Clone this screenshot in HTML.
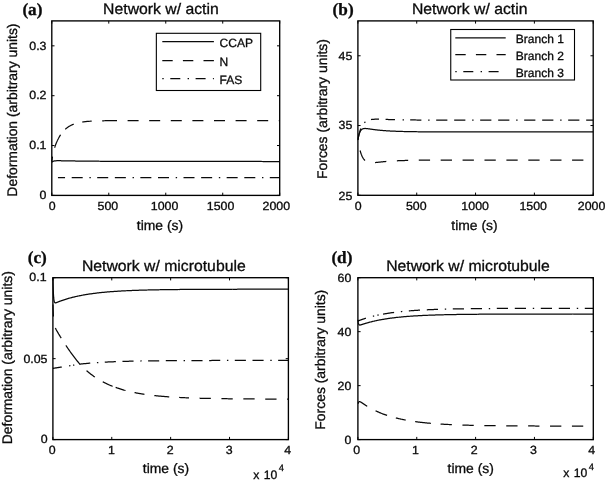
<!DOCTYPE html>
<html><head><meta charset="utf-8"><title>Figure</title>
<style>
html,body{margin:0;padding:0;background:#fff;}
svg{display:block;font-family:"Liberation Sans",sans-serif;}
svg text{text-rendering:geometricPrecision;fill:#0a0a0a;stroke:#0a0a0a;stroke-width:0.3px;}
</style></head><body>
<svg width="605" height="482" viewBox="0 0 605 482">
<rect width="605" height="482" fill="#fff"/>
<clipPath id="cpa"><rect x="51.199999999999996" y="20.299999999999997" width="229.09999999999997" height="175.7"/></clipPath>
<path d="M51.80,162.25 L51.91,162.14 L52.03,162.03 L52.14,161.94 L52.26,161.85 L52.37,161.77 L52.49,161.69 L52.60,161.62 L52.71,161.55 L52.83,161.49 L52.94,161.43 L53.06,161.37 L53.17,161.32 L53.29,161.27 L53.40,161.23 L53.51,161.19 L53.63,161.15 L53.74,161.11 L53.86,161.08 L53.97,161.05 L54.09,161.02 L54.20,161.00 L54.32,160.97 L54.43,160.95 L54.54,160.93 L54.66,160.91 L54.77,160.89 L54.89,160.87 L55.00,160.86 L55.12,160.84 L55.23,160.83 L55.34,160.82 L55.46,160.81 L55.57,160.80 L55.69,160.79 L55.80,160.78 L55.92,160.77 L56.03,160.76 L56.14,160.76 L56.26,160.75 L56.37,160.75 L56.49,160.74 L56.60,160.74 L56.72,160.73 L56.83,160.73 L56.94,160.73 L57.06,160.72 L57.17,160.72 L57.29,160.72 L57.40,160.72 L57.52,160.72 L57.63,160.71 L57.75,160.71 L57.86,160.71 L57.97,160.71 L58.09,160.71 L58.20,160.71 L58.32,160.71 L58.43,160.71 L58.55,160.71 L58.66,160.71 L58.77,160.71 L58.89,160.71 L59.00,160.72 L59.12,160.72 L59.23,160.72 L59.35,160.72 L59.46,160.72 L59.57,160.72 L59.69,160.72 L59.80,160.72 L59.92,160.73 L60.03,160.73 L60.15,160.73 L60.26,160.73 L60.37,160.73 L60.49,160.73 L60.60,160.74 L60.72,160.74 L60.83,160.74 L60.95,160.74 L61.06,160.74 L61.18,160.75 L61.29,160.75 L61.40,160.75 L61.52,160.75 L61.63,160.75 L61.75,160.76 L61.86,160.76 L61.98,160.76 L62.09,160.76 L62.20,160.77 L62.32,160.77 L62.43,160.77 L62.55,160.77 L62.66,160.77 L62.78,160.78 L62.89,160.78 L63.00,160.78 L63.12,160.78 L63.23,160.79 L63.35,160.79 L63.46,160.79 L63.58,160.79 L63.69,160.79 L63.80,160.80 L63.92,160.80 L64.03,160.80 L64.15,160.80 L64.26,160.81 L64.38,160.81 L64.49,160.81 L64.61,160.81 L64.72,160.81 L64.83,160.82 L64.95,160.82 L65.06,160.82 L65.18,160.82 L65.29,160.83 L65.41,160.83 L65.52,160.83 L65.63,160.83 L65.75,160.83 L65.86,160.84 L65.98,160.84 L66.09,160.84 L66.21,160.84 L66.32,160.85 L66.43,160.85 L66.55,160.85 L66.66,160.85 L66.78,160.85 L66.89,160.86 L67.01,160.86 L67.12,160.86 L67.23,160.86 L67.35,160.86 L67.46,160.87 L67.58,160.87 L67.69,160.87 L67.81,160.87 L67.92,160.88 L68.04,160.88 L68.15,160.88 L68.26,160.88 L68.38,160.88 L68.49,160.89 L68.61,160.89 L68.72,160.89 L68.84,160.89 L68.95,160.89 L69.06,160.90 L69.18,160.90 L69.29,160.90 L69.41,160.90 L69.52,160.90 L69.64,160.91 L69.75,160.91 L69.86,160.91 L69.98,160.91 L70.09,160.91 L70.21,160.92 L70.32,160.92 L70.44,160.92 L70.55,160.92 L70.66,160.92 L70.78,160.92 L70.89,160.93 L71.01,160.93 L71.12,160.93 L71.24,160.93 L71.35,160.93 L71.46,160.94 L71.58,160.94 L71.69,160.94 L71.81,160.94 L71.92,160.94 L72.04,160.95 L72.15,160.95 L72.27,160.95 L72.38,160.95 L72.49,160.95 L72.61,160.95 L72.72,160.96 L72.84,160.96 L72.95,160.96 L73.07,160.96 L73.18,160.96 L73.29,160.97 L73.41,160.97 L73.52,160.97 L73.64,160.97 L73.75,160.97 L73.87,160.97 L73.98,160.98 L74.09,160.98 L74.21,160.98 L74.32,160.98 L74.44,160.98 L74.55,160.98 L74.67,160.99 L74.78,160.99 L74.89,160.99 L75.01,160.99 L75.12,160.99 L75.24,160.99 L75.35,161.00 L75.47,161.00 L75.58,161.00 L75.70,161.00 L75.81,161.00 L75.92,161.00 L76.04,161.01 L76.15,161.01 L76.27,161.01 L76.38,161.01 L76.50,161.01 L76.61,161.01 L76.72,161.02 L76.84,161.02 L76.95,161.02 L77.07,161.02 L77.18,161.02 L77.30,161.02 L77.41,161.03 L77.52,161.03 L77.64,161.03 L77.75,161.03 L77.87,161.03 L77.98,161.03 L78.10,161.04 L78.21,161.04 L78.32,161.04 L78.44,161.04 L78.55,161.04 L78.67,161.04 L78.78,161.04 L78.90,161.05 L79.01,161.05 L79.13,161.05 L79.24,161.05 L79.35,161.05 L79.47,161.05 L79.58,161.05 L79.70,161.06 L79.81,161.06 L79.93,161.06 L80.04,161.06 L80.15,161.06 L80.27,161.06 L80.38,161.06 L80.50,161.07 L80.61,161.07 L80.73,161.07 L80.84,161.07 L80.95,161.07 L81.07,161.07 L81.18,161.07 L81.30,161.08 L81.41,161.08 L81.53,161.08 L81.64,161.08 L81.75,161.08 L81.87,161.08 L81.98,161.08 L82.10,161.09 L82.21,161.09 L82.33,161.09 L82.44,161.09 L82.56,161.09 L82.67,161.09 L82.78,161.09 L82.90,161.10 L83.01,161.10 L83.13,161.10 L83.24,161.10 L83.36,161.10 L83.47,161.10 L83.58,161.10 L83.70,161.10 L83.81,161.11 L83.93,161.11 L84.04,161.11 L84.16,161.11 L84.27,161.11 L84.38,161.11 L84.50,161.11 L84.61,161.12 L84.73,161.12 L84.84,161.12 L84.96,161.12 L85.07,161.12 L85.18,161.12 L85.30,161.12 L85.41,161.12 L85.53,161.13 L85.64,161.13 L85.76,161.13 L85.87,161.13 L85.98,161.13 L86.96,161.14 L87.93,161.15 L88.91,161.16 L89.88,161.17 L90.85,161.18 L91.83,161.19 L92.80,161.20 L93.77,161.21 L94.75,161.21 L95.72,161.22 L96.69,161.23 L97.67,161.24 L98.64,161.24 L99.61,161.25 L100.59,161.26 L101.56,161.26 L102.53,161.27 L103.51,161.28 L104.48,161.28 L105.45,161.29 L106.43,161.30 L107.40,161.30 L108.37,161.31 L109.35,161.31 L110.32,161.32 L111.29,161.32 L112.27,161.33 L113.24,161.33 L114.21,161.34 L115.19,161.34 L116.16,161.35 L117.14,161.35 L118.11,161.35 L119.08,161.36 L120.06,161.36 L121.03,161.37 L122.00,161.37 L122.98,161.37 L123.95,161.38 L124.92,161.38 L125.90,161.38 L126.87,161.39 L127.84,161.39 L128.82,161.39 L129.79,161.40 L130.76,161.40 L131.74,161.40 L132.71,161.40 L133.68,161.41 L134.66,161.41 L135.63,161.41 L136.60,161.41 L137.58,161.42 L138.55,161.42 L139.52,161.42 L140.50,161.42 L141.47,161.42 L142.44,161.43 L143.42,161.43 L144.39,161.43 L145.36,161.43 L146.34,161.43 L147.31,161.44 L148.29,161.44 L149.26,161.44 L150.23,161.44 L151.21,161.44 L152.18,161.44 L153.15,161.45 L154.13,161.45 L155.10,161.45 L156.07,161.45 L157.05,161.45 L158.02,161.45 L158.99,161.45 L159.97,161.46 L160.94,161.46 L161.91,161.46 L162.89,161.46 L163.86,161.46 L164.83,161.46 L165.81,161.46 L166.78,161.46 L167.75,161.46 L168.73,161.46 L169.70,161.47 L170.67,161.47 L171.65,161.47 L172.62,161.47 L173.59,161.47 L174.57,161.47 L175.54,161.47 L176.52,161.47 L177.49,161.47 L178.46,161.47 L179.44,161.47 L180.41,161.47 L181.38,161.47 L182.36,161.48 L183.33,161.48 L184.30,161.48 L185.28,161.48 L186.25,161.48 L187.22,161.48 L188.20,161.48 L189.17,161.48 L190.14,161.48 L191.12,161.48 L192.09,161.48 L193.06,161.48 L194.04,161.48 L195.01,161.48 L195.98,161.48 L196.96,161.48 L197.93,161.48 L198.90,161.48 L199.88,161.48 L200.85,161.48 L201.82,161.48 L202.80,161.49 L203.77,161.49 L204.74,161.49 L205.72,161.49 L206.69,161.49 L207.67,161.49 L208.64,161.49 L209.61,161.49 L210.59,161.49 L211.56,161.49 L212.53,161.49 L213.51,161.49 L214.48,161.49 L215.45,161.49 L216.43,161.49 L217.40,161.49 L218.37,161.49 L219.35,161.49 L220.32,161.49 L221.29,161.49 L222.27,161.49 L223.24,161.49 L224.21,161.49 L225.19,161.49 L226.16,161.49 L227.13,161.49 L228.11,161.49 L229.08,161.49 L230.05,161.49 L231.03,161.49 L232.00,161.49 L232.97,161.49 L233.95,161.49 L234.92,161.49 L235.90,161.49 L236.87,161.49 L237.84,161.49 L238.82,161.49 L239.79,161.49 L240.76,161.49 L241.74,161.49 L242.71,161.49 L243.68,161.49 L244.66,161.49 L245.63,161.49 L246.60,161.49 L247.58,161.49 L248.55,161.49 L249.52,161.49 L250.50,161.49 L251.47,161.49 L252.44,161.49 L253.42,161.49 L254.39,161.49 L255.36,161.49 L256.34,161.49 L257.31,161.49 L258.28,161.49 L259.26,161.49 L260.23,161.49 L261.20,161.49 L262.18,161.50 L263.15,161.50 L264.12,161.50 L265.10,161.50 L266.07,161.50 L267.05,161.50 L268.02,161.50 L268.99,161.50 L269.97,161.50 L270.94,161.50 L271.91,161.50 L272.89,161.50 L273.86,161.50 L274.83,161.50 L275.81,161.50 L276.78,161.50 L277.75,161.50 L278.73,161.50 L279.70,161.50" fill="none" stroke="#0a0a0a" stroke-width="1.25" clip-path="url(#cpa)"/>
<path d="M51.80,161.30 L51.91,160.41 L52.03,159.57 L52.14,158.78 L52.26,158.02 L52.37,157.30 L52.49,156.62 L52.60,155.97 L52.71,155.35 L52.83,154.75 L52.94,154.18 L53.06,153.63 L53.17,153.10 L53.29,152.59 L53.40,152.10 L53.51,151.62 L53.63,151.16 L53.74,150.71 L53.86,150.28 L53.97,149.86 L54.09,149.45 L54.20,149.05 L54.32,148.66 L54.43,148.27 L54.54,147.90 L54.66,147.54 L54.77,147.18 L54.89,146.83 L55.00,146.49 L55.12,146.16 L55.23,145.83 L55.34,145.51 L55.46,145.19 L55.57,144.88 L55.69,144.57 L55.80,144.27 L55.92,143.97 L56.03,143.68 L56.14,143.40 L56.26,143.11 L56.37,142.83 L56.49,142.56 L56.60,142.29 L56.72,142.02 L56.83,141.76 L56.94,141.50 L57.06,141.25 L57.17,141.00 L57.29,140.75 L57.40,140.50 L57.52,140.26 L57.63,140.02 L57.75,139.79 L57.86,139.55 L57.97,139.32 L58.09,139.10 L58.20,138.87 L58.32,138.65 L58.43,138.43 L58.55,138.22 L58.66,138.01 L58.77,137.80 L58.89,137.59 L59.00,137.38 L59.12,137.18 L59.23,136.98 L59.35,136.79 L59.46,136.59 L59.57,136.40 L59.69,136.21 L59.80,136.02 L59.92,135.83 L60.03,135.65 L60.15,135.47 L60.26,135.29 L60.37,135.12 L60.49,134.94 L60.60,134.77 L60.72,134.60 L60.83,134.43 L60.95,134.26 L61.06,134.10 L61.18,133.94 L61.29,133.78 L61.40,133.62 L61.52,133.46 L61.63,133.31 L61.75,133.16 L61.86,133.00 L61.98,132.86 L62.09,132.71 L62.20,132.56 L62.32,132.42 L62.43,132.28 L62.55,132.14 L62.66,132.00 L62.78,131.86 L62.89,131.73 L63.00,131.59 L63.12,131.46 L63.23,131.33 L63.35,131.20 L63.46,131.08 L63.58,130.95 L63.69,130.83 L63.80,130.70 L63.92,130.58 L64.03,130.46 L64.15,130.34 L64.26,130.23 L64.38,130.11 L64.49,130.00 L64.61,129.88 L64.72,129.77 L64.83,129.66 L64.95,129.55 L65.06,129.45 L65.18,129.34 L65.29,129.24 L65.41,129.13 L65.52,129.03 L65.63,128.93 L65.75,128.83 L65.86,128.73 L65.98,128.63 L66.09,128.54 L66.21,128.44 L66.32,128.35 L66.43,128.25 L66.55,128.16 L66.66,128.07 L66.78,127.98 L66.89,127.89 L67.01,127.81 L67.12,127.72 L67.23,127.63 L67.35,127.55 L67.46,127.47 L67.58,127.38 L67.69,127.30 L67.81,127.22 L67.92,127.14 L68.04,127.06 L68.15,126.99 L68.26,126.91 L68.38,126.83 L68.49,126.76 L68.61,126.69 L68.72,126.61 L68.84,126.54 L68.95,126.47 L69.06,126.40 L69.18,126.33 L69.29,126.26 L69.41,126.19 L69.52,126.13 L69.64,126.06 L69.75,125.99 L69.86,125.93 L69.98,125.87 L70.09,125.80 L70.21,125.74 L70.32,125.68 L70.44,125.62 L70.55,125.56 L70.66,125.50 L70.78,125.44 L70.89,125.38 L71.01,125.32 L71.12,125.27 L71.24,125.21 L71.35,125.16 L71.46,125.10 L71.58,125.05 L71.69,125.00 L71.81,124.94 L71.92,124.89 L72.04,124.84 L72.15,124.79 L72.27,124.74 L72.38,124.69 L72.49,124.64 L72.61,124.59 L72.72,124.54 L72.84,124.50 L72.95,124.45 L73.07,124.40 L73.18,124.36 L73.29,124.31 L73.41,124.27 L73.52,124.22 L73.64,124.18 L73.75,124.14 L73.87,124.10 L73.98,124.05 L74.09,124.01 L74.21,123.97 L74.32,123.93 L74.44,123.89 L74.55,123.85 L74.67,123.81 L74.78,123.78 L74.89,123.74 L75.01,123.70 L75.12,123.66 L75.24,123.63 L75.35,123.59 L75.47,123.55 L75.58,123.52 L75.70,123.48 L75.81,123.45 L75.92,123.42 L76.04,123.38 L76.15,123.35 L76.27,123.32 L76.38,123.28 L76.50,123.25 L76.61,123.22 L76.72,123.19 L76.84,123.16 L76.95,123.13 L77.07,123.10 L77.18,123.07 L77.30,123.04 L77.41,123.01 L77.52,122.98 L77.64,122.95 L77.75,122.92 L77.87,122.89 L77.98,122.87 L78.10,122.84 L78.21,122.81 L78.32,122.79 L78.44,122.76 L78.55,122.74 L78.67,122.71 L78.78,122.68 L78.90,122.66 L79.01,122.64 L79.13,122.61 L79.24,122.59 L79.35,122.56 L79.47,122.54 L79.58,122.52 L79.70,122.49 L79.81,122.47 L79.93,122.45 L80.04,122.43 L80.15,122.41 L80.27,122.38 L80.38,122.36 L80.50,122.34 L80.61,122.32 L80.73,122.30 L80.84,122.28 L80.95,122.26 L81.07,122.24 L81.18,122.22 L81.30,122.20 L81.41,122.18 L81.53,122.16 L81.64,122.14 L81.75,122.13 L81.87,122.11 L81.98,122.09 L82.10,122.07 L82.21,122.05 L82.33,122.04 L82.44,122.02 L82.56,122.00 L82.67,121.99 L82.78,121.97 L82.90,121.95 L83.01,121.94 L83.13,121.92 L83.24,121.91 L83.36,121.89 L83.47,121.88 L83.58,121.86 L83.70,121.85 L83.81,121.83 L83.93,121.82 L84.04,121.80 L84.16,121.79 L84.27,121.77 L84.38,121.76 L84.50,121.75 L84.61,121.73 L84.73,121.72 L84.84,121.71 L84.96,121.69 L85.07,121.68 L85.18,121.67 L85.30,121.65 L85.41,121.64 L85.53,121.63 L85.64,121.62 L85.76,121.60 L85.87,121.59 L85.98,121.58 L86.96,121.49 L87.93,121.40 L88.91,121.32 L89.88,121.25 L90.85,121.19 L91.83,121.14 L92.80,121.08 L93.77,121.04 L94.75,121.00 L95.72,120.96 L96.69,120.93 L97.67,120.90 L98.64,120.87 L99.61,120.84 L100.59,120.82 L101.56,120.80 L102.53,120.78 L103.51,120.77 L104.48,120.75 L105.45,120.74 L106.43,120.73 L107.40,120.71 L108.37,120.70 L109.35,120.70 L110.32,120.69 L111.29,120.68 L112.27,120.67 L113.24,120.67 L114.21,120.66 L115.19,120.66 L116.16,120.65 L117.14,120.65 L118.11,120.65 L119.08,120.64 L120.06,120.64 L121.03,120.64 L122.00,120.64 L122.98,120.63 L123.95,120.63 L124.92,120.63 L125.90,120.63 L126.87,120.63 L127.84,120.63 L128.82,120.62 L129.79,120.62 L130.76,120.62 L131.74,120.62 L132.71,120.62 L133.68,120.62 L134.66,120.62 L135.63,120.62 L136.60,120.62 L137.58,120.62 L138.55,120.62 L139.52,120.62 L140.50,120.62 L141.47,120.62 L142.44,120.62 L143.42,120.62 L144.39,120.62 L145.36,120.62 L146.34,120.62 L147.31,120.62 L148.29,120.62 L149.26,120.62 L150.23,120.62 L151.21,120.62 L152.18,120.62 L153.15,120.62 L154.13,120.62 L155.10,120.61 L156.07,120.61 L157.05,120.61 L158.02,120.61 L158.99,120.61 L159.97,120.61 L160.94,120.61 L161.91,120.61 L162.89,120.61 L163.86,120.61 L164.83,120.61 L165.81,120.61 L166.78,120.61 L167.75,120.61 L168.73,120.61 L169.70,120.61 L170.67,120.61 L171.65,120.61 L172.62,120.61 L173.59,120.61 L174.57,120.61 L175.54,120.61 L176.52,120.61 L177.49,120.61 L178.46,120.61 L179.44,120.61 L180.41,120.61 L181.38,120.61 L182.36,120.61 L183.33,120.61 L184.30,120.61 L185.28,120.61 L186.25,120.61 L187.22,120.61 L188.20,120.61 L189.17,120.61 L190.14,120.61 L191.12,120.61 L192.09,120.61 L193.06,120.61 L194.04,120.61 L195.01,120.61 L195.98,120.61 L196.96,120.61 L197.93,120.61 L198.90,120.61 L199.88,120.61 L200.85,120.61 L201.82,120.61 L202.80,120.61 L203.77,120.61 L204.74,120.61 L205.72,120.61 L206.69,120.61 L207.67,120.61 L208.64,120.61 L209.61,120.61 L210.59,120.61 L211.56,120.61 L212.53,120.61 L213.51,120.61 L214.48,120.61 L215.45,120.61 L216.43,120.61 L217.40,120.61 L218.37,120.61 L219.35,120.61 L220.32,120.61 L221.29,120.61 L222.27,120.61 L223.24,120.61 L224.21,120.61 L225.19,120.61 L226.16,120.61 L227.13,120.61 L228.11,120.61 L229.08,120.61 L230.05,120.61 L231.03,120.61 L232.00,120.61 L232.97,120.61 L233.95,120.61 L234.92,120.61 L235.90,120.61 L236.87,120.61 L237.84,120.61 L238.82,120.61 L239.79,120.61 L240.76,120.61 L241.74,120.61 L242.71,120.61 L243.68,120.61 L244.66,120.61 L245.63,120.61 L246.60,120.61 L247.58,120.61 L248.55,120.61 L249.52,120.61 L250.50,120.61 L251.47,120.61 L252.44,120.61 L253.42,120.61 L254.39,120.61 L255.36,120.61 L256.34,120.61 L257.31,120.61 L258.28,120.61 L259.26,120.61 L260.23,120.61 L261.20,120.61 L262.18,120.61 L263.15,120.61 L264.12,120.61 L265.10,120.61 L266.07,120.61 L267.05,120.61 L268.02,120.61 L268.99,120.61 L269.97,120.61 L270.94,120.61 L271.91,120.61 L272.89,120.61 L273.86,120.61 L274.83,120.61 L275.81,120.61 L276.78,120.61 L277.75,120.61 L278.73,120.61 L279.70,120.61" fill="none" stroke="#0a0a0a" stroke-width="1.25" stroke-dasharray="4.81 9.07 14.32 7.15 10.11 8.77 9.45 10.51 14.80 10.60 11.00 10.60 11.00 10.60 11.00 10.60 11.00 10.60 11.00 10.60 11.00 10.60 11.00 10.60 11.00 10.60 11.00 10.60 11.00 10.60" clip-path="url(#cpa)"/>
<path d="M57.95,177.60 L62.48,177.60 L67.00,177.60 L71.53,177.60 L76.06,177.60 L80.58,177.60 L85.11,177.60 L89.63,177.60 L94.16,177.60 L98.68,177.60 L103.21,177.60 L107.73,177.60 L112.26,177.60 L116.78,177.60 L121.31,177.60 L125.83,177.60 L130.36,177.60 L134.89,177.60 L139.41,177.60 L143.94,177.60 L148.46,177.60 L152.99,177.60 L157.51,177.60 L162.04,177.60 L166.56,177.60 L171.09,177.60 L175.61,177.60 L180.14,177.60 L184.67,177.60 L189.19,177.60 L193.72,177.60 L198.24,177.60 L202.77,177.60 L207.29,177.60 L211.82,177.60 L216.34,177.60 L220.87,177.60 L225.39,177.60 L229.92,177.60 L234.45,177.60 L238.97,177.60 L243.50,177.60 L248.02,177.60 L252.55,177.60 L257.07,177.60 L261.60,177.60 L266.12,177.60 L270.65,177.60 L275.17,177.60 L279.70,177.60" fill="none" stroke="#0a0a0a" stroke-width="1.25" stroke-dasharray="11.0 6.7 1.4 6.4 11.0 6.65" stroke-dashoffset="29.40" clip-path="url(#cpa)"/>
<rect x="51.8" y="20.9" width="227.89999999999998" height="174.5" fill="none" stroke="#000" stroke-width="1.35"/>
<path d="M51.80,195.4 v-2.7 M51.80,20.9 v2.7" stroke="#000" stroke-width="1"/>
<path d="M108.77,195.4 v-2.7 M108.77,20.9 v2.7" stroke="#000" stroke-width="1"/>
<path d="M165.75,195.4 v-2.7 M165.75,20.9 v2.7" stroke="#000" stroke-width="1"/>
<path d="M222.72,195.4 v-2.7 M222.72,20.9 v2.7" stroke="#000" stroke-width="1"/>
<path d="M279.70,195.4 v-2.7 M279.70,20.9 v2.7" stroke="#000" stroke-width="1"/>
<path d="M51.8,195.40 h2.7 M279.7,195.40 h-2.7" stroke="#000" stroke-width="1"/>
<path d="M51.8,145.54 h2.7 M279.7,145.54 h-2.7" stroke="#000" stroke-width="1"/>
<path d="M51.8,95.69 h2.7 M279.7,95.69 h-2.7" stroke="#000" stroke-width="1"/>
<path d="M51.8,45.83 h2.7 M279.7,45.83 h-2.7" stroke="#000" stroke-width="1"/>
<text transform="translate(52.10,209.60) scale(1.05,1)" font-size="11.8" text-anchor="middle">0</text>
<text transform="translate(107.87,209.60) scale(1.05,1)" font-size="11.8" text-anchor="middle">500</text>
<text transform="translate(164.55,209.60) scale(1.05,1)" font-size="11.8" text-anchor="middle">1000</text>
<text transform="translate(220.52,209.60) scale(1.05,1)" font-size="11.8" text-anchor="middle">1500</text>
<text transform="translate(276.30,209.60) scale(1.05,1)" font-size="11.8" text-anchor="middle">2000</text>
<text transform="translate(46.50,199.10) scale(1.05,1)" font-size="11.8" text-anchor="end">0</text>
<text transform="translate(46.50,149.24) scale(1.05,1)" font-size="11.8" text-anchor="end">0.1</text>
<text transform="translate(46.50,99.39) scale(1.05,1)" font-size="11.8" text-anchor="end">0.2</text>
<text transform="translate(46.50,49.53) scale(1.05,1)" font-size="11.8" text-anchor="end">0.3</text>
<text transform="translate(160.90,13.70) scale(1.03,1)" font-size="15.3" text-anchor="middle">Network w/ actin</text>
<text transform="translate(160.00,229.60) scale(1.015,1)" font-size="13.7" text-anchor="middle">time (s)</text>
<text transform="translate(17.1,110.1) rotate(-90)" font-size="13.92" text-anchor="middle">Deformation (arbitrary units)</text>
<text x="22.4" y="15.4" font-size="17.2" font-weight="bold" font-family="'Liberation Serif', serif" stroke-width="0.35">(a)</text>
<clipPath id="cpb"><rect x="357.29999999999995" y="20.299999999999997" width="236.50000000000006" height="175.6"/></clipPath>
<path d="M357.90,139.98 L358.02,139.26 L358.14,138.59 L358.25,137.95 L358.37,137.35 L358.49,136.78 L358.61,136.25 L358.73,135.74 L358.84,135.27 L358.96,134.82 L359.08,134.40 L359.20,134.01 L359.32,133.63 L359.43,133.28 L359.55,132.95 L359.67,132.64 L359.79,132.35 L359.91,132.07 L360.02,131.82 L360.14,131.57 L360.26,131.35 L360.38,131.13 L360.50,130.93 L360.61,130.75 L360.73,130.57 L360.85,130.40 L360.97,130.25 L361.09,130.11 L361.21,129.97 L361.32,129.84 L361.44,129.73 L361.56,129.62 L361.68,129.51 L361.80,129.42 L361.91,129.33 L362.03,129.25 L362.15,129.17 L362.27,129.10 L362.39,129.04 L362.50,128.98 L362.62,128.92 L362.74,128.87 L362.86,128.82 L362.98,128.78 L363.09,128.74 L363.21,128.71 L363.33,128.67 L363.45,128.64 L363.57,128.62 L363.68,128.59 L363.80,128.57 L363.92,128.56 L364.04,128.54 L364.16,128.53 L364.27,128.51 L364.39,128.50 L364.51,128.50 L364.63,128.49 L364.75,128.49 L364.86,128.48 L364.98,128.48 L365.10,128.48 L365.22,128.48 L365.34,128.48 L365.45,128.49 L365.57,128.49 L365.69,128.50 L365.81,128.50 L365.93,128.51 L366.04,128.52 L366.16,128.53 L366.28,128.54 L366.40,128.55 L366.52,128.56 L366.64,128.57 L366.75,128.58 L366.87,128.59 L366.99,128.61 L367.11,128.62 L367.23,128.63 L367.34,128.65 L367.46,128.66 L367.58,128.68 L367.70,128.69 L367.82,128.71 L367.93,128.72 L368.05,128.74 L368.17,128.75 L368.29,128.77 L368.41,128.79 L368.52,128.80 L368.64,128.82 L368.76,128.84 L368.88,128.85 L369.00,128.87 L369.11,128.89 L369.23,128.90 L369.35,128.92 L369.47,128.94 L369.59,128.96 L369.70,128.97 L369.82,128.99 L369.94,129.01 L370.06,129.03 L370.18,129.04 L370.29,129.06 L370.41,129.08 L370.53,129.10 L370.65,129.11 L370.77,129.13 L370.88,129.15 L371.00,129.16 L371.12,129.18 L371.24,129.20 L371.36,129.22 L371.47,129.23 L371.59,129.25 L371.71,129.27 L371.83,129.28 L371.95,129.30 L372.07,129.32 L372.18,129.33 L372.30,129.35 L372.42,129.37 L372.54,129.38 L372.66,129.40 L372.77,129.42 L372.89,129.43 L373.01,129.45 L373.13,129.47 L373.25,129.48 L373.36,129.50 L373.48,129.51 L373.60,129.53 L373.72,129.55 L373.84,129.56 L373.95,129.58 L374.07,129.59 L374.19,129.61 L374.31,129.62 L374.43,129.64 L374.54,129.65 L374.66,129.67 L374.78,129.68 L374.90,129.70 L375.02,129.71 L375.13,129.73 L375.25,129.74 L375.37,129.76 L375.49,129.77 L375.61,129.79 L375.72,129.80 L375.84,129.82 L375.96,129.83 L376.08,129.84 L376.20,129.86 L376.31,129.87 L376.43,129.89 L376.55,129.90 L376.67,129.91 L376.79,129.93 L376.90,129.94 L377.02,129.95 L377.14,129.97 L377.26,129.98 L377.38,129.99 L377.50,130.01 L377.61,130.02 L377.73,130.03 L377.85,130.04 L377.97,130.06 L378.09,130.07 L378.20,130.08 L378.32,130.09 L378.44,130.11 L378.56,130.12 L378.68,130.13 L378.79,130.14 L378.91,130.16 L379.03,130.17 L379.15,130.18 L379.27,130.19 L379.38,130.20 L379.50,130.21 L379.62,130.23 L379.74,130.24 L379.86,130.25 L379.97,130.26 L380.09,130.27 L380.21,130.28 L380.33,130.29 L380.45,130.31 L380.56,130.32 L380.68,130.33 L380.80,130.34 L380.92,130.35 L381.04,130.36 L381.15,130.37 L381.27,130.38 L381.39,130.39 L381.51,130.40 L381.63,130.41 L381.74,130.42 L381.86,130.43 L381.98,130.44 L382.10,130.45 L382.22,130.46 L382.33,130.47 L382.45,130.48 L382.57,130.49 L382.69,130.50 L382.81,130.51 L382.93,130.52 L383.04,130.53 L383.16,130.54 L383.28,130.55 L383.40,130.56 L383.52,130.57 L383.63,130.58 L383.75,130.59 L383.87,130.60 L383.99,130.61 L384.11,130.61 L384.22,130.62 L384.34,130.63 L384.46,130.64 L384.58,130.65 L384.70,130.66 L384.81,130.67 L384.93,130.68 L385.05,130.68 L385.17,130.69 L385.29,130.70 L385.40,130.71 L385.52,130.72 L385.64,130.73 L385.76,130.73 L385.88,130.74 L385.99,130.75 L386.11,130.76 L386.23,130.77 L386.35,130.78 L386.47,130.78 L386.58,130.79 L386.70,130.80 L386.82,130.81 L386.94,130.81 L387.06,130.82 L387.17,130.83 L387.29,130.84 L387.41,130.84 L387.53,130.85 L387.65,130.86 L387.76,130.87 L387.88,130.87 L388.00,130.88 L388.12,130.89 L388.24,130.90 L388.36,130.90 L388.47,130.91 L388.59,130.92 L388.71,130.92 L388.83,130.93 L388.95,130.94 L389.06,130.94 L389.18,130.95 L389.30,130.96 L389.42,130.96 L389.54,130.97 L389.65,130.98 L389.77,130.98 L389.89,130.99 L390.01,131.00 L390.13,131.00 L390.24,131.01 L390.36,131.02 L390.48,131.02 L390.60,131.03 L390.72,131.03 L390.83,131.04 L390.95,131.05 L391.07,131.05 L391.19,131.06 L391.31,131.06 L391.42,131.07 L391.54,131.08 L391.66,131.08 L391.78,131.09 L391.90,131.09 L392.01,131.10 L392.13,131.11 L392.25,131.11 L392.37,131.12 L392.49,131.12 L392.60,131.13 L392.72,131.13 L392.84,131.14 L392.96,131.14 L393.08,131.15 L393.19,131.16 L394.20,131.20 L395.21,131.24 L396.21,131.28 L397.22,131.32 L398.22,131.35 L399.23,131.39 L400.23,131.42 L401.24,131.45 L402.24,131.48 L403.25,131.50 L404.25,131.53 L405.26,131.55 L406.26,131.58 L407.27,131.60 L408.27,131.62 L409.28,131.64 L410.28,131.65 L411.29,131.67 L412.29,131.69 L413.30,131.70 L414.30,131.72 L415.31,131.73 L416.31,131.74 L417.32,131.75 L418.32,131.76 L419.33,131.78 L420.33,131.79 L421.34,131.80 L422.34,131.80 L423.35,131.81 L424.35,131.82 L425.36,131.83 L426.36,131.84 L427.37,131.84 L428.37,131.85 L429.38,131.85 L430.38,131.86 L431.39,131.87 L432.39,131.87 L433.40,131.88 L434.40,131.88 L435.41,131.88 L436.41,131.89 L437.42,131.89 L438.42,131.90 L439.43,131.90 L440.43,131.90 L441.44,131.91 L442.44,131.91 L443.45,131.91 L444.45,131.91 L445.46,131.92 L446.46,131.92 L447.47,131.92 L448.47,131.92 L449.48,131.92 L450.48,131.93 L451.49,131.93 L452.49,131.93 L453.50,131.93 L454.50,131.93 L455.51,131.93 L456.51,131.94 L457.52,131.94 L458.52,131.94 L459.53,131.94 L460.53,131.94 L461.54,131.94 L462.54,131.94 L463.55,131.94 L464.55,131.94 L465.56,131.94 L466.56,131.95 L467.57,131.95 L468.57,131.95 L469.58,131.95 L470.58,131.95 L471.59,131.95 L472.59,131.95 L473.60,131.95 L474.60,131.95 L475.61,131.95 L476.61,131.95 L477.62,131.95 L478.62,131.95 L479.63,131.95 L480.63,131.95 L481.64,131.95 L482.64,131.95 L483.65,131.95 L484.65,131.95 L485.66,131.95 L486.66,131.95 L487.67,131.95 L488.67,131.95 L489.68,131.95 L490.68,131.95 L491.69,131.95 L492.69,131.96 L493.70,131.96 L494.71,131.96 L495.71,131.96 L496.72,131.96 L497.72,131.96 L498.73,131.96 L499.73,131.96 L500.74,131.96 L501.74,131.96 L502.75,131.96 L503.75,131.96 L504.76,131.96 L505.76,131.96 L506.77,131.96 L507.77,131.96 L508.78,131.96 L509.78,131.96 L510.79,131.96 L511.79,131.96 L512.80,131.96 L513.80,131.96 L514.81,131.96 L515.81,131.96 L516.82,131.96 L517.82,131.96 L518.83,131.96 L519.83,131.96 L520.84,131.96 L521.84,131.96 L522.85,131.96 L523.85,131.96 L524.86,131.96 L525.86,131.96 L526.87,131.96 L527.87,131.96 L528.88,131.96 L529.88,131.96 L530.89,131.96 L531.89,131.96 L532.90,131.96 L533.90,131.96 L534.91,131.96 L535.91,131.96 L536.92,131.96 L537.92,131.96 L538.93,131.96 L539.93,131.96 L540.94,131.96 L541.94,131.96 L542.95,131.96 L543.95,131.96 L544.96,131.96 L545.96,131.96 L546.97,131.96 L547.97,131.96 L548.98,131.96 L549.98,131.96 L550.99,131.96 L551.99,131.96 L553.00,131.96 L554.00,131.96 L555.01,131.96 L556.01,131.96 L557.02,131.96 L558.02,131.96 L559.03,131.96 L560.03,131.96 L561.04,131.96 L562.04,131.96 L563.05,131.96 L564.05,131.96 L565.06,131.96 L566.06,131.96 L567.07,131.96 L568.07,131.96 L569.08,131.96 L570.08,131.96 L571.09,131.96 L572.09,131.96 L573.10,131.96 L574.10,131.96 L575.11,131.96 L576.11,131.96 L577.12,131.96 L578.12,131.96 L579.13,131.96 L580.13,131.96 L581.14,131.96 L582.14,131.96 L583.15,131.96 L584.15,131.96 L585.16,131.96 L586.16,131.96 L587.17,131.96 L588.17,131.96 L589.18,131.96 L590.18,131.96 L591.19,131.96 L592.19,131.96 L593.20,131.96" fill="none" stroke="#0a0a0a" stroke-width="1.25" clip-path="url(#cpb)"/>
<path d="M357.90,139.49 L358.02,140.26 L358.14,141.01 L358.25,141.73 L358.37,142.43 L358.49,143.11 L358.61,143.77 L358.73,144.41 L358.84,145.03 L358.96,145.63 L359.08,146.21 L359.20,146.77 L359.32,147.32 L359.43,147.85 L359.55,148.36 L359.67,148.86 L359.79,149.35 L359.91,149.81 L360.02,150.27 L360.14,150.71 L360.26,151.13 L360.38,151.54 L360.50,151.94 L360.61,152.33 L360.73,152.71 L360.85,153.07 L360.97,153.42 L361.09,153.76 L361.21,154.09 L361.32,154.41 L361.44,154.72 L361.56,155.02 L361.68,155.31 L361.80,155.59 L361.91,155.86 L362.03,156.12 L362.15,156.38 L362.27,156.62 L362.39,156.86 L362.50,157.09 L362.62,157.31 L362.74,157.53 L362.86,157.74 L362.98,157.94 L363.09,158.13 L363.21,158.32 L363.33,158.50 L363.45,158.67 L363.57,158.84 L363.68,159.01 L363.80,159.17 L363.92,159.32 L364.04,159.46 L364.16,159.61 L364.27,159.74 L364.39,159.88 L364.51,160.00 L364.63,160.13 L364.75,160.25 L364.86,160.36 L364.98,160.47 L365.10,160.58 L365.22,160.68 L365.34,160.78 L365.45,160.87 L365.57,160.96 L365.69,161.05 L365.81,161.13 L365.93,161.22 L366.04,161.29 L366.16,161.37 L366.28,161.44 L366.40,161.51 L366.52,161.58 L366.64,161.64 L366.75,161.70 L366.87,161.76 L366.99,161.82 L367.11,161.87 L367.23,161.92 L367.34,161.97 L367.46,162.02 L367.58,162.06 L367.70,162.10 L367.82,162.15 L367.93,162.18 L368.05,162.22 L368.17,162.26 L368.29,162.29 L368.41,162.32 L368.52,162.35 L368.64,162.38 L368.76,162.41 L368.88,162.43 L369.00,162.46 L369.11,162.48 L369.23,162.50 L369.35,162.52 L369.47,162.54 L369.59,162.56 L369.70,162.58 L369.82,162.59 L369.94,162.61 L370.06,162.62 L370.18,162.63 L370.29,162.64 L370.41,162.65 L370.53,162.66 L370.65,162.67 L370.77,162.68 L370.88,162.69 L371.00,162.69 L371.12,162.70 L371.24,162.70 L371.36,162.70 L371.47,162.71 L371.59,162.71 L371.71,162.71 L371.83,162.71 L371.95,162.71 L372.07,162.71 L372.18,162.71 L372.30,162.71 L372.42,162.71 L372.54,162.71 L372.66,162.70 L372.77,162.70 L372.89,162.70 L373.01,162.69 L373.13,162.69 L373.25,162.68 L373.36,162.68 L373.48,162.67 L373.60,162.67 L373.72,162.66 L373.84,162.65 L373.95,162.64 L374.07,162.64 L374.19,162.63 L374.31,162.62 L374.43,162.61 L374.54,162.60 L374.66,162.60 L374.78,162.59 L374.90,162.58 L375.02,162.57 L375.13,162.56 L375.25,162.55 L375.37,162.54 L375.49,162.53 L375.61,162.52 L375.72,162.51 L375.84,162.50 L375.96,162.49 L376.08,162.48 L376.20,162.46 L376.31,162.45 L376.43,162.44 L376.55,162.43 L376.67,162.42 L376.79,162.41 L376.90,162.40 L377.02,162.38 L377.14,162.37 L377.26,162.36 L377.38,162.35 L377.50,162.34 L377.61,162.32 L377.73,162.31 L377.85,162.30 L377.97,162.29 L378.09,162.27 L378.20,162.26 L378.32,162.25 L378.44,162.24 L378.56,162.22 L378.68,162.21 L378.79,162.20 L378.91,162.19 L379.03,162.17 L379.15,162.16 L379.27,162.15 L379.38,162.14 L379.50,162.12 L379.62,162.11 L379.74,162.10 L379.86,162.09 L379.97,162.07 L380.09,162.06 L380.21,162.05 L380.33,162.04 L380.45,162.02 L380.56,162.01 L380.68,162.00 L380.80,161.99 L380.92,161.97 L381.04,161.96 L381.15,161.95 L381.27,161.94 L381.39,161.92 L381.51,161.91 L381.63,161.90 L381.74,161.89 L381.86,161.88 L381.98,161.86 L382.10,161.85 L382.22,161.84 L382.33,161.83 L382.45,161.82 L382.57,161.80 L382.69,161.79 L382.81,161.78 L382.93,161.77 L383.04,161.76 L383.16,161.75 L383.28,161.73 L383.40,161.72 L383.52,161.71 L383.63,161.70 L383.75,161.69 L383.87,161.68 L383.99,161.67 L384.11,161.65 L384.22,161.64 L384.34,161.63 L384.46,161.62 L384.58,161.61 L384.70,161.60 L384.81,161.59 L384.93,161.58 L385.05,161.57 L385.17,161.56 L385.29,161.55 L385.40,161.54 L385.52,161.53 L385.64,161.51 L385.76,161.50 L385.88,161.49 L385.99,161.48 L386.11,161.47 L386.23,161.46 L386.35,161.45 L386.47,161.44 L386.58,161.43 L386.70,161.42 L386.82,161.41 L386.94,161.40 L387.06,161.39 L387.17,161.38 L387.29,161.37 L387.41,161.37 L387.53,161.36 L387.65,161.35 L387.76,161.34 L387.88,161.33 L388.00,161.32 L388.12,161.31 L388.24,161.30 L388.36,161.29 L388.47,161.28 L388.59,161.27 L388.71,161.26 L388.83,161.26 L388.95,161.25 L389.06,161.24 L389.18,161.23 L389.30,161.22 L389.42,161.21 L389.54,161.20 L389.65,161.20 L389.77,161.19 L389.89,161.18 L390.01,161.17 L390.13,161.16 L390.24,161.15 L390.36,161.15 L390.48,161.14 L390.60,161.13 L390.72,161.12 L390.83,161.11 L390.95,161.11 L391.07,161.10 L391.19,161.09 L391.31,161.08 L391.42,161.08 L391.54,161.07 L391.66,161.06 L391.78,161.05 L391.90,161.05 L392.01,161.04 L392.13,161.03 L392.25,161.02 L392.37,161.02 L392.49,161.01 L392.60,161.00 L392.72,161.00 L392.84,160.99 L392.96,160.98 L393.08,160.97 L393.19,160.97 L394.20,160.91 L395.21,160.86 L396.21,160.81 L397.22,160.76 L398.22,160.72 L399.23,160.68 L400.23,160.64 L401.24,160.60 L402.24,160.57 L403.25,160.54 L404.25,160.51 L405.26,160.48 L406.26,160.45 L407.27,160.43 L408.27,160.41 L409.28,160.39 L410.28,160.37 L411.29,160.35 L412.29,160.33 L413.30,160.31 L414.30,160.30 L415.31,160.28 L416.31,160.27 L417.32,160.26 L418.32,160.25 L419.33,160.23 L420.33,160.22 L421.34,160.21 L422.34,160.21 L423.35,160.20 L424.35,160.19 L425.36,160.18 L426.36,160.17 L427.37,160.17 L428.37,160.16 L429.38,160.16 L430.38,160.15 L431.39,160.15 L432.39,160.14 L433.40,160.14 L434.40,160.13 L435.41,160.13 L436.41,160.12 L437.42,160.12 L438.42,160.12 L439.43,160.12 L440.43,160.11 L441.44,160.11 L442.44,160.11 L443.45,160.10 L444.45,160.10 L445.46,160.10 L446.46,160.10 L447.47,160.10 L448.47,160.10 L449.48,160.09 L450.48,160.09 L451.49,160.09 L452.49,160.09 L453.50,160.09 L454.50,160.09 L455.51,160.09 L456.51,160.09 L457.52,160.08 L458.52,160.08 L459.53,160.08 L460.53,160.08 L461.54,160.08 L462.54,160.08 L463.55,160.08 L464.55,160.08 L465.56,160.08 L466.56,160.08 L467.57,160.08 L468.57,160.08 L469.58,160.08 L470.58,160.08 L471.59,160.08 L472.59,160.08 L473.60,160.08 L474.60,160.08 L475.61,160.08 L476.61,160.08 L477.62,160.07 L478.62,160.07 L479.63,160.07 L480.63,160.07 L481.64,160.07 L482.64,160.07 L483.65,160.07 L484.65,160.07 L485.66,160.07 L486.66,160.07 L487.67,160.07 L488.67,160.07 L489.68,160.07 L490.68,160.07 L491.69,160.07 L492.69,160.07 L493.70,160.07 L494.71,160.07 L495.71,160.07 L496.72,160.07 L497.72,160.07 L498.73,160.07 L499.73,160.07 L500.74,160.07 L501.74,160.07 L502.75,160.07 L503.75,160.07 L504.76,160.07 L505.76,160.07 L506.77,160.07 L507.77,160.07 L508.78,160.07 L509.78,160.07 L510.79,160.07 L511.79,160.07 L512.80,160.07 L513.80,160.07 L514.81,160.07 L515.81,160.07 L516.82,160.07 L517.82,160.07 L518.83,160.07 L519.83,160.07 L520.84,160.07 L521.84,160.07 L522.85,160.07 L523.85,160.07 L524.86,160.07 L525.86,160.07 L526.87,160.07 L527.87,160.07 L528.88,160.07 L529.88,160.07 L530.89,160.07 L531.89,160.07 L532.90,160.07 L533.90,160.07 L534.91,160.07 L535.91,160.07 L536.92,160.07 L537.92,160.07 L538.93,160.07 L539.93,160.07 L540.94,160.07 L541.94,160.07 L542.95,160.07 L543.95,160.07 L544.96,160.07 L545.96,160.07 L546.97,160.07 L547.97,160.07 L548.98,160.07 L549.98,160.07 L550.99,160.07 L551.99,160.07 L553.00,160.07 L554.00,160.07 L555.01,160.07 L556.01,160.07 L557.02,160.07 L558.02,160.07 L559.03,160.07 L560.03,160.07 L561.04,160.07 L562.04,160.07 L563.05,160.07 L564.05,160.07 L565.06,160.07 L566.06,160.07 L567.07,160.07 L568.07,160.07 L569.08,160.07 L570.08,160.07 L571.09,160.07 L572.09,160.07 L573.10,160.07 L574.10,160.07 L575.11,160.07 L576.11,160.07 L577.12,160.07 L578.12,160.07 L579.13,160.07 L580.13,160.07 L581.14,160.07 L582.14,160.07 L583.15,160.07 L584.15,160.07 L585.16,160.07 L586.16,160.07 L587.17,160.07 L588.17,160.07 L589.18,160.07 L590.18,160.07 L591.19,160.07 L592.19,160.07 L593.20,160.07" fill="none" stroke="#0a0a0a" stroke-width="1.25" stroke-dasharray="11.3 10.6" stroke-dashoffset="10.68" clip-path="url(#cpb)"/>
<path d="M357.90,139.35 L358.02,138.76 L358.14,138.18 L358.25,137.62 L358.37,137.07 L358.49,136.54 L358.61,136.02 L358.73,135.52 L358.84,135.04 L358.96,134.56 L359.08,134.10 L359.20,133.66 L359.32,133.22 L359.43,132.80 L359.55,132.39 L359.67,131.99 L359.79,131.60 L359.91,131.23 L360.02,130.86 L360.14,130.51 L360.26,130.16 L360.38,129.83 L360.50,129.50 L360.61,129.19 L360.73,128.88 L360.85,128.58 L360.97,128.29 L361.09,128.01 L361.21,127.74 L361.32,127.47 L361.44,127.21 L361.56,126.96 L361.68,126.72 L361.80,126.48 L361.91,126.25 L362.03,126.03 L362.15,125.82 L362.27,125.60 L362.39,125.40 L362.50,125.20 L362.62,125.01 L362.74,124.82 L362.86,124.64 L362.98,124.47 L363.09,124.30 L363.21,124.13 L363.33,123.97 L363.45,123.81 L363.57,123.66 L363.68,123.51 L363.80,123.37 L363.92,123.23 L364.04,123.10 L364.16,122.97 L364.27,122.84 L364.39,122.72 L364.51,122.60 L364.63,122.48 L364.75,122.37 L364.86,122.26 L364.98,122.16 L365.10,122.06 L365.22,121.96 L365.34,121.86 L365.45,121.77 L365.57,121.68 L365.69,121.59 L365.81,121.50 L365.93,121.42 L366.04,121.34 L366.16,121.26 L366.28,121.19 L366.40,121.12 L366.52,121.05 L366.64,120.98 L366.75,120.91 L366.87,120.85 L366.99,120.79 L367.11,120.73 L367.23,120.67 L367.34,120.61 L367.46,120.56 L367.58,120.50 L367.70,120.45 L367.82,120.40 L367.93,120.36 L368.05,120.31 L368.17,120.27 L368.29,120.22 L368.41,120.18 L368.52,120.14 L368.64,120.10 L368.76,120.06 L368.88,120.03 L369.00,119.99 L369.11,119.96 L369.23,119.92 L369.35,119.89 L369.47,119.86 L369.59,119.83 L369.70,119.80 L369.82,119.78 L369.94,119.75 L370.06,119.72 L370.18,119.70 L370.29,119.68 L370.41,119.65 L370.53,119.63 L370.65,119.61 L370.77,119.59 L370.88,119.57 L371.00,119.55 L371.12,119.53 L371.24,119.51 L371.36,119.50 L371.47,119.48 L371.59,119.47 L371.71,119.45 L371.83,119.44 L371.95,119.42 L372.07,119.41 L372.18,119.40 L372.30,119.39 L372.42,119.37 L372.54,119.36 L372.66,119.35 L372.77,119.34 L372.89,119.33 L373.01,119.32 L373.13,119.32 L373.25,119.31 L373.36,119.30 L373.48,119.29 L373.60,119.28 L373.72,119.28 L373.84,119.27 L373.95,119.27 L374.07,119.26 L374.19,119.26 L374.31,119.25 L374.43,119.25 L374.54,119.24 L374.66,119.24 L374.78,119.23 L374.90,119.23 L375.02,119.23 L375.13,119.22 L375.25,119.22 L375.37,119.22 L375.49,119.22 L375.61,119.21 L375.72,119.21 L375.84,119.21 L375.96,119.21 L376.08,119.21 L376.20,119.21 L376.31,119.21 L376.43,119.21 L376.55,119.21 L376.67,119.21 L376.79,119.21 L376.90,119.21 L377.02,119.21 L377.14,119.21 L377.26,119.21 L377.38,119.21 L377.50,119.21 L377.61,119.21 L377.73,119.21 L377.85,119.21 L377.97,119.21 L378.09,119.21 L378.20,119.22 L378.32,119.22 L378.44,119.22 L378.56,119.22 L378.68,119.22 L378.79,119.22 L378.91,119.23 L379.03,119.23 L379.15,119.23 L379.27,119.23 L379.38,119.24 L379.50,119.24 L379.62,119.24 L379.74,119.24 L379.86,119.25 L379.97,119.25 L380.09,119.25 L380.21,119.25 L380.33,119.26 L380.45,119.26 L380.56,119.26 L380.68,119.27 L380.80,119.27 L380.92,119.27 L381.04,119.28 L381.15,119.28 L381.27,119.28 L381.39,119.29 L381.51,119.29 L381.63,119.29 L381.74,119.30 L381.86,119.30 L381.98,119.30 L382.10,119.31 L382.22,119.31 L382.33,119.31 L382.45,119.32 L382.57,119.32 L382.69,119.32 L382.81,119.33 L382.93,119.33 L383.04,119.33 L383.16,119.34 L383.28,119.34 L383.40,119.35 L383.52,119.35 L383.63,119.35 L383.75,119.36 L383.87,119.36 L383.99,119.36 L384.11,119.37 L384.22,119.37 L384.34,119.38 L384.46,119.38 L384.58,119.38 L384.70,119.39 L384.81,119.39 L384.93,119.39 L385.05,119.40 L385.17,119.40 L385.29,119.40 L385.40,119.41 L385.52,119.41 L385.64,119.42 L385.76,119.42 L385.88,119.42 L385.99,119.43 L386.11,119.43 L386.23,119.43 L386.35,119.44 L386.47,119.44 L386.58,119.45 L386.70,119.45 L386.82,119.45 L386.94,119.46 L387.06,119.46 L387.17,119.46 L387.29,119.47 L387.41,119.47 L387.53,119.48 L387.65,119.48 L387.76,119.48 L387.88,119.49 L388.00,119.49 L388.12,119.49 L388.24,119.50 L388.36,119.50 L388.47,119.50 L388.59,119.51 L388.71,119.51 L388.83,119.51 L388.95,119.52 L389.06,119.52 L389.18,119.53 L389.30,119.53 L389.42,119.53 L389.54,119.54 L389.65,119.54 L389.77,119.54 L389.89,119.55 L390.01,119.55 L390.13,119.55 L390.24,119.56 L390.36,119.56 L390.48,119.56 L390.60,119.57 L390.72,119.57 L390.83,119.57 L390.95,119.58 L391.07,119.58 L391.19,119.58 L391.31,119.59 L391.42,119.59 L391.54,119.59 L391.66,119.60 L391.78,119.60 L391.90,119.60 L392.01,119.61 L392.13,119.61 L392.25,119.61 L392.37,119.61 L392.49,119.62 L392.60,119.62 L392.72,119.62 L392.84,119.63 L392.96,119.63 L393.08,119.63 L393.19,119.64 L394.20,119.66 L395.21,119.69 L396.21,119.71 L397.22,119.73 L398.22,119.75 L399.23,119.77 L400.23,119.79 L401.24,119.81 L402.24,119.83 L403.25,119.84 L404.25,119.86 L405.26,119.87 L406.26,119.89 L407.27,119.90 L408.27,119.92 L409.28,119.93 L410.28,119.94 L411.29,119.95 L412.29,119.96 L413.30,119.97 L414.30,119.98 L415.31,119.99 L416.31,120.00 L417.32,120.01 L418.32,120.02 L419.33,120.02 L420.33,120.03 L421.34,120.04 L422.34,120.04 L423.35,120.05 L424.35,120.06 L425.36,120.06 L426.36,120.07 L427.37,120.07 L428.37,120.08 L429.38,120.08 L430.38,120.08 L431.39,120.09 L432.39,120.09 L433.40,120.10 L434.40,120.10 L435.41,120.10 L436.41,120.11 L437.42,120.11 L438.42,120.11 L439.43,120.12 L440.43,120.12 L441.44,120.12 L442.44,120.12 L443.45,120.12 L444.45,120.13 L445.46,120.13 L446.46,120.13 L447.47,120.13 L448.47,120.13 L449.48,120.14 L450.48,120.14 L451.49,120.14 L452.49,120.14 L453.50,120.14 L454.50,120.14 L455.51,120.14 L456.51,120.15 L457.52,120.15 L458.52,120.15 L459.53,120.15 L460.53,120.15 L461.54,120.15 L462.54,120.15 L463.55,120.15 L464.55,120.15 L465.56,120.15 L466.56,120.15 L467.57,120.16 L468.57,120.16 L469.58,120.16 L470.58,120.16 L471.59,120.16 L472.59,120.16 L473.60,120.16 L474.60,120.16 L475.61,120.16 L476.61,120.16 L477.62,120.16 L478.62,120.16 L479.63,120.16 L480.63,120.16 L481.64,120.16 L482.64,120.16 L483.65,120.16 L484.65,120.16 L485.66,120.16 L486.66,120.16 L487.67,120.16 L488.67,120.16 L489.68,120.16 L490.68,120.16 L491.69,120.16 L492.69,120.16 L493.70,120.16 L494.71,120.17 L495.71,120.17 L496.72,120.17 L497.72,120.17 L498.73,120.17 L499.73,120.17 L500.74,120.17 L501.74,120.17 L502.75,120.17 L503.75,120.17 L504.76,120.17 L505.76,120.17 L506.77,120.17 L507.77,120.17 L508.78,120.17 L509.78,120.17 L510.79,120.17 L511.79,120.17 L512.80,120.17 L513.80,120.17 L514.81,120.17 L515.81,120.17 L516.82,120.17 L517.82,120.17 L518.83,120.17 L519.83,120.17 L520.84,120.17 L521.84,120.17 L522.85,120.17 L523.85,120.17 L524.86,120.17 L525.86,120.17 L526.87,120.17 L527.87,120.17 L528.88,120.17 L529.88,120.17 L530.89,120.17 L531.89,120.17 L532.90,120.17 L533.90,120.17 L534.91,120.17 L535.91,120.17 L536.92,120.17 L537.92,120.17 L538.93,120.17 L539.93,120.17 L540.94,120.17 L541.94,120.17 L542.95,120.17 L543.95,120.17 L544.96,120.17 L545.96,120.17 L546.97,120.17 L547.97,120.17 L548.98,120.17 L549.98,120.17 L550.99,120.17 L551.99,120.17 L553.00,120.17 L554.00,120.17 L555.01,120.17 L556.01,120.17 L557.02,120.17 L558.02,120.17 L559.03,120.17 L560.03,120.17 L561.04,120.17 L562.04,120.17 L563.05,120.17 L564.05,120.17 L565.06,120.17 L566.06,120.17 L567.07,120.17 L568.07,120.17 L569.08,120.17 L570.08,120.17 L571.09,120.17 L572.09,120.17 L573.10,120.17 L574.10,120.17 L575.11,120.17 L576.11,120.17 L577.12,120.17 L578.12,120.17 L579.13,120.17 L580.13,120.17 L581.14,120.17 L582.14,120.17 L583.15,120.17 L584.15,120.17 L585.16,120.17 L586.16,120.17 L587.17,120.17 L588.17,120.17 L589.18,120.17 L590.18,120.17 L591.19,120.17 L592.19,120.17 L593.20,120.17" fill="none" stroke="#0a0a0a" stroke-width="1.25" stroke-dasharray="11.20 6.80 1.40 6.14 8.02 6.60 9.40 7.60 1.40 6.20 11.20 6.80 1.40 6.60 11.20 6.80 11.20 6.80 1.40 6.60 11.20 6.80 11.20 6.80 1.40 6.60 11.20 6.80 11.20 6.80 1.40 6.60 11.20 6.80 11.20 6.80 1.40 6.60 11.20 6.80 11.20 6.80 1.40 6.60 11.20 6.80" clip-path="url(#cpb)"/>
<rect x="357.9" y="20.9" width="235.30000000000007" height="174.4" fill="none" stroke="#000" stroke-width="1.35"/>
<path d="M357.90,195.3 v-2.7 M357.90,20.9 v2.7" stroke="#000" stroke-width="1"/>
<path d="M416.73,195.3 v-2.7 M416.73,20.9 v2.7" stroke="#000" stroke-width="1"/>
<path d="M475.55,195.3 v-2.7 M475.55,20.9 v2.7" stroke="#000" stroke-width="1"/>
<path d="M534.38,195.3 v-2.7 M534.38,20.9 v2.7" stroke="#000" stroke-width="1"/>
<path d="M593.20,195.3 v-2.7 M593.20,20.9 v2.7" stroke="#000" stroke-width="1"/>
<path d="M357.9,195.30 h2.7 M593.2,195.30 h-2.7" stroke="#000" stroke-width="1"/>
<path d="M357.9,125.54 h2.7 M593.2,125.54 h-2.7" stroke="#000" stroke-width="1"/>
<path d="M357.9,55.78 h2.7 M593.2,55.78 h-2.7" stroke="#000" stroke-width="1"/>
<text transform="translate(358.10,209.60) scale(1.05,1)" font-size="11.8" text-anchor="middle">0</text>
<text transform="translate(416.23,209.60) scale(1.05,1)" font-size="11.8" text-anchor="middle">500</text>
<text transform="translate(475.15,209.60) scale(1.05,1)" font-size="11.8" text-anchor="middle">1000</text>
<text transform="translate(533.17,209.60) scale(1.05,1)" font-size="11.8" text-anchor="middle">1500</text>
<text transform="translate(591.60,209.60) scale(1.05,1)" font-size="11.8" text-anchor="middle">2000</text>
<text transform="translate(352.40,199.90) scale(1.05,1)" font-size="11.8" text-anchor="end">25</text>
<text transform="translate(352.40,129.34) scale(1.05,1)" font-size="11.8" text-anchor="end">35</text>
<text transform="translate(352.40,59.58) scale(1.05,1)" font-size="11.8" text-anchor="end">45</text>
<text transform="translate(469.70,13.70) scale(1.03,1)" font-size="15.3" text-anchor="middle">Network w/ actin</text>
<text transform="translate(474.50,229.80) scale(1.015,1)" font-size="13.7" text-anchor="middle">time (s)</text>
<text transform="translate(327.2,109.0) rotate(-90)" font-size="13.92" text-anchor="middle">Forces (arbitrary units)</text>
<text x="332.6" y="15.4" font-size="17.2" font-weight="bold" font-family="'Liberation Serif', serif" stroke-width="0.35">(b)</text>
<clipPath id="cpc"><rect x="52.3" y="277.09999999999997" width="236.69999999999996" height="163.10000000000002"/></clipPath>
<path d="M52.90,277.78 L52.92,278.85 L52.94,279.88 L52.97,280.86 L52.99,281.80 L53.01,282.70 L53.03,283.57 L53.05,284.40 L53.08,285.20 L53.10,285.96 L53.12,286.69 L53.14,287.39 L53.17,288.06 L53.19,288.71 L53.21,289.32 L53.23,289.91 L53.25,290.48 L53.28,291.02 L53.30,291.55 L53.32,292.04 L53.34,292.52 L53.36,292.98 L53.39,293.42 L53.41,293.84 L53.43,294.24 L53.45,294.63 L53.48,295.00 L53.50,295.35 L53.52,295.69 L53.54,296.02 L53.56,296.33 L53.59,296.63 L53.61,296.91 L53.63,297.19 L53.65,297.45 L53.67,297.70 L53.70,297.94 L53.72,298.17 L53.74,298.39 L53.76,298.60 L53.79,298.80 L53.81,299.00 L53.83,299.18 L53.85,299.36 L53.87,299.53 L53.90,299.69 L53.92,299.84 L53.94,299.99 L53.96,300.13 L53.98,300.27 L54.01,300.40 L54.03,300.52 L54.05,300.64 L54.07,300.75 L54.10,300.86 L54.12,300.97 L54.14,301.06 L54.16,301.16 L54.18,301.25 L54.21,301.33 L54.23,301.42 L54.25,301.49 L54.27,301.57 L54.29,301.64 L54.32,301.71 L54.34,301.77 L54.36,301.83 L54.38,301.89 L54.41,301.95 L54.43,302.00 L54.45,302.05 L54.47,302.10 L54.49,302.15 L54.52,302.19 L54.54,302.23 L54.56,302.27 L54.58,302.31 L54.60,302.34 L54.63,302.38 L54.65,302.41 L54.67,302.44 L54.69,302.47 L54.71,302.50 L54.74,302.52 L54.76,302.55 L54.78,302.57 L54.80,302.59 L54.83,302.61 L54.85,302.63 L54.87,302.65 L54.89,302.66 L54.91,302.68 L54.94,302.69 L54.96,302.71 L54.98,302.72 L55.00,302.73 L55.02,302.74 L55.05,302.75 L55.07,302.76 L55.09,302.77 L55.11,302.78 L55.14,302.78 L55.16,302.79 L55.18,302.80 L55.20,302.80 L55.22,302.80 L55.25,302.81 L55.27,302.81 L55.29,302.82 L55.31,302.82 L55.33,302.82 L55.36,302.82 L55.38,302.82 L55.40,302.82 L55.42,302.82 L55.45,302.82 L55.47,302.82 L55.49,302.82 L55.51,302.82 L55.53,302.82 L55.56,302.82 L55.58,302.81 L55.60,302.81 L55.62,302.81 L55.64,302.81 L55.67,302.80 L55.69,302.80 L55.71,302.79 L55.73,302.79 L55.76,302.79 L55.78,302.78 L55.80,302.78 L55.82,302.77 L55.84,302.77 L55.87,302.76 L55.89,302.76 L55.91,302.75 L55.93,302.75 L55.95,302.74 L55.98,302.73 L56.00,302.73 L56.02,302.72 L56.04,302.72 L56.07,302.71 L56.09,302.70 L56.11,302.70 L56.13,302.69 L56.15,302.68 L56.18,302.68 L56.20,302.67 L56.22,302.66 L56.24,302.65 L56.26,302.65 L56.29,302.64 L56.31,302.63 L56.33,302.62 L56.35,302.62 L56.37,302.61 L56.40,302.60 L56.42,302.59 L56.44,302.59 L56.46,302.58 L56.49,302.57 L56.51,302.56 L56.53,302.55 L56.55,302.55 L56.57,302.54 L56.60,302.53 L56.62,302.52 L56.64,302.51 L56.66,302.51 L56.68,302.50 L56.71,302.49 L56.73,302.48 L56.75,302.47 L56.77,302.46 L56.80,302.46 L56.82,302.45 L56.84,302.44 L56.86,302.43 L56.88,302.42 L56.91,302.41 L56.93,302.41 L56.95,302.40 L56.97,302.39 L56.99,302.38 L57.02,302.37 L57.04,302.36 L57.06,302.35 L57.08,302.35 L57.11,302.34 L57.13,302.33 L57.15,302.32 L57.17,302.31 L57.19,302.30 L57.22,302.29 L57.24,302.29 L57.26,302.28 L57.28,302.27 L57.30,302.26 L57.33,302.25 L57.35,302.24 L57.37,302.23 L57.39,302.22 L57.42,302.22 L57.44,302.21 L57.46,302.20 L57.48,302.19 L57.50,302.18 L57.53,302.17 L57.55,302.16 L57.57,302.16 L57.59,302.15 L57.61,302.14 L57.64,302.13 L57.66,302.12 L57.68,302.11 L57.70,302.10 L57.73,302.09 L57.75,302.09 L57.77,302.08 L57.79,302.07 L57.81,302.06 L57.84,302.05 L57.86,302.04 L57.88,302.03 L57.90,302.02 L57.92,302.02 L57.95,302.01 L57.97,302.00 L57.99,301.99 L58.01,301.98 L58.03,301.97 L58.06,301.96 L58.08,301.96 L58.10,301.95 L58.12,301.94 L58.15,301.93 L58.17,301.92 L58.19,301.91 L58.21,301.90 L58.23,301.90 L58.26,301.89 L58.28,301.88 L58.30,301.87 L58.32,301.86 L58.34,301.85 L58.37,301.84 L58.39,301.83 L58.41,301.83 L58.43,301.82 L58.46,301.81 L58.48,301.80 L58.50,301.79 L58.52,301.78 L58.54,301.77 L58.57,301.77 L58.59,301.76 L58.61,301.75 L58.63,301.74 L58.65,301.73 L58.68,301.72 L58.70,301.71 L58.72,301.71 L58.74,301.70 L58.77,301.69 L58.79,301.68 L58.81,301.67 L58.83,301.66 L58.85,301.66 L58.88,301.65 L58.90,301.64 L58.92,301.63 L58.94,301.62 L58.96,301.61 L58.99,301.60 L59.01,301.60 L59.03,301.59 L59.05,301.58 L59.08,301.57 L59.10,301.56 L59.12,301.55 L59.14,301.54 L59.16,301.54 L59.19,301.53 L59.21,301.52 L59.23,301.51 L59.25,301.50 L59.27,301.49 L59.30,301.49 L59.32,301.48 L59.34,301.47 L59.36,301.46 L59.39,301.45 L59.41,301.44 L59.43,301.44 L59.45,301.43 L59.47,301.42 L59.50,301.41 L59.52,301.40 L59.54,301.39 L59.56,301.39 L59.58,301.38 L59.61,301.37 L59.63,301.36 L59.65,301.35 L59.67,301.34 L59.69,301.34 L59.72,301.33 L59.74,301.32 L59.76,301.31 L59.78,301.30 L59.81,301.29 L59.83,301.29 L59.85,301.28 L59.87,301.27 L59.89,301.26 L59.92,301.25 L59.94,301.24 L59.96,301.24 L59.98,301.23 L60.00,301.22 L60.03,301.21 L60.05,301.20 L60.07,301.20 L60.09,301.19 L60.12,301.18 L60.14,301.17 L60.16,301.16 L60.18,301.15 L60.20,301.15 L60.23,301.14 L60.25,301.13 L60.27,301.12 L60.29,301.11 L60.31,301.11 L60.34,301.10 L60.36,301.09 L60.38,301.08 L60.40,301.07 L60.43,301.07 L60.45,301.06 L60.47,301.05 L60.49,301.04 L60.51,301.03 L60.54,301.02 L60.56,301.02 L60.58,301.01 L60.60,301.00 L60.62,300.99 L60.65,300.98 L60.67,300.98 L60.69,300.97 L60.71,300.96 L60.74,300.95 L60.76,300.94 L60.78,300.94 L60.80,300.93 L60.82,300.92 L60.85,300.91 L60.87,300.90 L60.89,300.90 L60.91,300.89 L60.93,300.88 L60.96,300.87 L60.98,300.86 L61.00,300.86 L61.02,300.85 L61.05,300.84 L61.07,300.83 L61.09,300.82 L61.11,300.82 L61.13,300.81 L61.16,300.80 L61.18,300.79 L61.20,300.78 L61.22,300.78 L61.24,300.77 L61.27,300.76 L61.29,300.75 L61.31,300.74 L61.33,300.74 L61.35,300.73 L61.38,300.72 L61.40,300.71 L61.42,300.71 L61.44,300.70 L61.47,300.69 L61.49,300.68 L61.51,300.67 L61.53,300.67 L61.55,300.66 L61.58,300.65 L61.60,300.64 L61.62,300.63 L61.64,300.63 L61.66,300.62 L61.69,300.61 L61.71,300.60 L61.73,300.60 L62.49,300.33 L63.25,300.07 L64.01,299.82 L64.76,299.58 L65.52,299.34 L66.28,299.10 L67.04,298.87 L67.80,298.65 L68.55,298.43 L69.31,298.22 L70.07,298.01 L70.83,297.80 L71.59,297.60 L72.34,297.41 L73.10,297.22 L73.86,297.03 L74.62,296.85 L75.38,296.68 L76.13,296.50 L76.89,296.33 L77.65,296.17 L78.41,296.01 L79.17,295.85 L79.93,295.70 L80.68,295.54 L81.44,295.40 L82.20,295.25 L82.96,295.11 L83.72,294.98 L84.47,294.84 L85.23,294.71 L85.99,294.58 L86.75,294.46 L87.51,294.34 L88.26,294.22 L89.02,294.10 L89.78,293.99 L90.54,293.88 L91.30,293.77 L92.05,293.66 L92.81,293.56 L93.57,293.46 L94.33,293.36 L95.09,293.26 L95.85,293.17 L96.60,293.08 L97.36,292.99 L98.12,292.90 L98.88,292.82 L99.64,292.73 L100.39,292.65 L101.15,292.57 L101.91,292.49 L102.67,292.42 L103.43,292.34 L104.18,292.27 L104.94,292.20 L105.70,292.13 L106.46,292.06 L107.22,291.99 L107.97,291.93 L108.73,291.87 L109.49,291.80 L110.25,291.74 L111.01,291.68 L111.77,291.63 L112.52,291.57 L113.28,291.52 L114.04,291.46 L114.80,291.41 L115.56,291.36 L116.31,291.31 L117.07,291.26 L117.83,291.21 L118.59,291.16 L119.35,291.12 L120.10,291.07 L120.86,291.03 L121.62,290.99 L122.38,290.95 L123.14,290.91 L123.89,290.87 L124.65,290.83 L125.41,290.79 L126.17,290.75 L126.93,290.72 L127.69,290.68 L128.44,290.65 L129.20,290.61 L129.96,290.58 L130.72,290.55 L131.48,290.52 L132.23,290.49 L132.99,290.46 L133.75,290.43 L134.51,290.40 L135.27,290.37 L136.02,290.34 L136.78,290.32 L137.54,290.29 L138.30,290.27 L139.06,290.24 L139.81,290.22 L140.57,290.19 L141.33,290.17 L142.09,290.15 L142.85,290.13 L143.60,290.10 L144.36,290.08 L145.12,290.06 L145.88,290.04 L146.64,290.02 L147.40,290.00 L148.15,289.99 L148.91,289.97 L149.67,289.95 L150.43,289.93 L151.19,289.91 L151.94,289.90 L152.70,289.88 L153.46,289.87 L154.22,289.85 L154.98,289.84 L155.73,289.82 L156.49,289.81 L157.25,289.79 L158.01,289.78 L158.77,289.76 L159.52,289.75 L160.28,289.74 L161.04,289.73 L161.80,289.71 L162.56,289.70 L163.32,289.69 L164.07,289.68 L164.83,289.67 L165.59,289.66 L166.35,289.65 L167.11,289.64 L167.86,289.62 L168.62,289.61 L169.38,289.61 L170.14,289.60 L170.90,289.59 L171.65,289.58 L172.41,289.57 L173.17,289.56 L173.93,289.55 L174.69,289.54 L175.44,289.54 L176.20,289.53 L176.96,289.52 L177.72,289.51 L178.48,289.50 L179.24,289.50 L179.99,289.49 L180.75,289.48 L181.51,289.48 L182.27,289.47 L183.03,289.46 L183.78,289.46 L184.54,289.45 L185.30,289.45 L186.06,289.44 L186.82,289.43 L187.57,289.43 L188.33,289.42 L189.09,289.42 L189.85,289.41 L190.61,289.41 L191.36,289.40 L192.12,289.40 L192.88,289.39 L193.64,289.39 L194.40,289.38 L195.15,289.38 L195.91,289.38 L196.67,289.37 L197.43,289.37 L198.19,289.36 L198.95,289.36 L199.70,289.36 L200.46,289.35 L201.22,289.35 L201.98,289.34 L202.74,289.34 L203.49,289.34 L204.25,289.33 L205.01,289.33 L205.77,289.33 L206.53,289.33 L207.28,289.32 L208.04,289.32 L208.80,289.32 L209.56,289.31 L210.32,289.31 L211.07,289.31 L211.83,289.31 L212.59,289.30 L213.35,289.30 L214.11,289.30 L214.87,289.30 L215.62,289.29 L216.38,289.29 L217.14,289.29 L217.90,289.29 L218.66,289.28 L219.41,289.28 L220.17,289.28 L220.93,289.28 L221.69,289.28 L222.45,289.27 L223.20,289.27 L223.96,289.27 L224.72,289.27 L225.48,289.27 L226.24,289.27 L226.99,289.26 L227.75,289.26 L228.51,289.26 L229.27,289.26 L230.03,289.26 L230.79,289.26 L231.54,289.26 L232.30,289.25 L233.06,289.25 L233.82,289.25 L234.58,289.25 L235.33,289.25 L236.09,289.25 L236.85,289.25 L237.61,289.24 L238.37,289.24 L239.12,289.24 L239.88,289.24 L240.64,289.24 L241.40,289.24 L242.16,289.24 L242.91,289.24 L243.67,289.24 L244.43,289.24 L245.19,289.23 L245.95,289.23 L246.71,289.23 L247.46,289.23 L248.22,289.23 L248.98,289.23 L249.74,289.23 L250.50,289.23 L251.25,289.23 L252.01,289.23 L252.77,289.23 L253.53,289.23 L254.29,289.22 L255.04,289.22 L255.80,289.22 L256.56,289.22 L257.32,289.22 L258.08,289.22 L258.83,289.22 L259.59,289.22 L260.35,289.22 L261.11,289.22 L261.87,289.22 L262.62,289.22 L263.38,289.22 L264.14,289.22 L264.90,289.22 L265.66,289.22 L266.42,289.22 L267.17,289.21 L267.93,289.21 L268.69,289.21 L269.45,289.21 L270.21,289.21 L270.96,289.21 L271.72,289.21 L272.48,289.21 L273.24,289.21 L274.00,289.21 L274.75,289.21 L275.51,289.21 L276.27,289.21 L277.03,289.21 L277.79,289.21 L278.54,289.21 L279.30,289.21 L280.06,289.21 L280.82,289.21 L281.58,289.21 L282.34,289.21 L283.09,289.21 L283.85,289.21 L284.61,289.21 L285.37,289.21 L286.13,289.21 L286.88,289.21 L287.64,289.21 L288.40,289.21" fill="none" stroke="#0a0a0a" stroke-width="1.25" clip-path="url(#cpc)"/>
<path d="M52.90,304.52 L52.92,305.28 L52.94,306.01 L52.97,306.71 L52.99,307.39 L53.01,308.05 L53.03,308.68 L53.05,309.30 L53.08,309.89 L53.10,310.46 L53.12,311.01 L53.14,311.54 L53.17,312.05 L53.19,312.55 L53.21,313.03 L53.23,313.49 L53.25,313.94 L53.28,314.37 L53.30,314.79 L53.32,315.19 L53.34,315.59 L53.36,315.96 L53.39,316.33 L53.41,316.68 L53.43,317.02 L53.45,317.35 L53.48,317.67 L53.50,317.98 L53.52,318.28 L53.54,318.57 L53.56,318.85 L53.59,319.12 L53.61,319.39 L53.63,319.64 L53.65,319.89 L53.67,320.13 L53.70,320.36 L53.72,320.58 L53.74,320.80 L53.76,321.01 L53.79,321.22 L53.81,321.42 L53.83,321.61 L53.85,321.80 L53.87,321.98 L53.90,322.16 L53.92,322.33 L53.94,322.49 L53.96,322.66 L53.98,322.81 L54.01,322.97 L54.03,323.12 L54.05,323.26 L54.07,323.40 L54.10,323.54 L54.12,323.67 L54.14,323.80 L54.16,323.93 L54.18,324.05 L54.21,324.17 L54.23,324.29 L54.25,324.40 L54.27,324.52 L54.29,324.62 L54.32,324.73 L54.34,324.83 L54.36,324.94 L54.38,325.03 L54.41,325.13 L54.43,325.23 L54.45,325.32 L54.47,325.41 L54.49,325.50 L54.52,325.59 L54.54,325.67 L54.56,325.75 L54.58,325.84 L54.60,325.92 L54.63,326.00 L54.65,326.07 L54.67,326.15 L54.69,326.22 L54.71,326.30 L54.74,326.37 L54.76,326.44 L54.78,326.51 L54.80,326.58 L54.83,326.64 L54.85,326.71 L54.87,326.77 L54.89,326.84 L54.91,326.90 L54.94,326.96 L54.96,327.03 L54.98,327.09 L55.00,327.15 L55.02,327.21 L55.05,327.26 L55.07,327.32 L55.09,327.38 L55.11,327.43 L55.14,327.49 L55.16,327.54 L55.18,327.60 L55.20,327.65 L55.22,327.71 L55.25,327.76 L55.27,327.81 L55.29,327.86 L55.31,327.91 L55.33,327.96 L55.36,328.01 L55.38,328.06 L55.40,328.11 L55.42,328.16 L55.45,328.21 L55.47,328.26 L55.49,328.31 L55.51,328.35 L55.53,328.40 L55.56,328.45 L55.58,328.49 L55.60,328.54 L55.62,328.59 L55.64,328.63 L55.67,328.68 L55.69,328.72 L55.71,328.77 L55.73,328.81 L55.76,328.86 L55.78,328.90 L55.80,328.94 L55.82,328.99 L55.84,329.03 L55.87,329.07 L55.89,329.12 L55.91,329.16 L55.93,329.20 L55.95,329.25 L55.98,329.29 L56.00,329.33 L56.02,329.37 L56.04,329.41 L56.07,329.46 L56.09,329.50 L56.11,329.54 L56.13,329.58 L56.15,329.62 L56.18,329.66 L56.20,329.70 L56.22,329.74 L56.24,329.78 L56.26,329.83 L56.29,329.87 L56.31,329.91 L56.33,329.95 L56.35,329.99 L56.37,330.03 L56.40,330.07 L56.42,330.11 L56.44,330.15 L56.46,330.19 L56.49,330.23 L56.51,330.27 L56.53,330.31 L56.55,330.35 L56.57,330.39 L56.60,330.43 L56.62,330.46 L56.64,330.50 L56.66,330.54 L56.68,330.58 L56.71,330.62 L56.73,330.66 L56.75,330.70 L56.77,330.74 L56.80,330.78 L56.82,330.82 L56.84,330.86 L56.86,330.89 L56.88,330.93 L56.91,330.97 L56.93,331.01 L56.95,331.05 L56.97,331.09 L56.99,331.13 L57.02,331.16 L57.04,331.20 L57.06,331.24 L57.08,331.28 L57.11,331.32 L57.13,331.36 L57.15,331.40 L57.17,331.43 L57.19,331.47 L57.22,331.51 L57.24,331.55 L57.26,331.59 L57.28,331.62 L57.30,331.66 L57.33,331.70 L57.35,331.74 L57.37,331.78 L57.39,331.81 L57.42,331.85 L57.44,331.89 L57.46,331.93 L57.48,331.97 L57.50,332.00 L57.53,332.04 L57.55,332.08 L57.57,332.12 L57.59,332.16 L57.61,332.19 L57.64,332.23 L57.66,332.27 L57.68,332.31 L57.70,332.34 L57.73,332.38 L57.75,332.42 L57.77,332.46 L57.79,332.49 L57.81,332.53 L57.84,332.57 L57.86,332.61 L57.88,332.65 L57.90,332.68 L57.92,332.72 L57.95,332.76 L57.97,332.80 L57.99,332.83 L58.01,332.87 L58.03,332.91 L58.06,332.95 L58.08,332.98 L58.10,333.02 L58.12,333.06 L58.15,333.09 L58.17,333.13 L58.19,333.17 L58.21,333.21 L58.23,333.24 L58.26,333.28 L58.28,333.32 L58.30,333.36 L58.32,333.39 L58.34,333.43 L58.37,333.47 L58.39,333.50 L58.41,333.54 L58.43,333.58 L58.46,333.62 L58.48,333.65 L58.50,333.69 L58.52,333.73 L58.54,333.76 L58.57,333.80 L58.59,333.84 L58.61,333.88 L58.63,333.91 L58.65,333.95 L58.68,333.99 L58.70,334.02 L58.72,334.06 L58.74,334.10 L58.77,334.13 L58.79,334.17 L58.81,334.21 L58.83,334.25 L58.85,334.28 L58.88,334.32 L58.90,334.36 L58.92,334.39 L58.94,334.43 L58.96,334.47 L58.99,334.50 L59.01,334.54 L59.03,334.58 L59.05,334.61 L59.08,334.65 L59.10,334.69 L59.12,334.72 L59.14,334.76 L59.16,334.80 L59.19,334.83 L59.21,334.87 L59.23,334.91 L59.25,334.95 L59.27,334.98 L59.30,335.02 L59.32,335.06 L59.34,335.09 L59.36,335.13 L59.39,335.16 L59.41,335.20 L59.43,335.24 L59.45,335.27 L59.47,335.31 L59.50,335.35 L59.52,335.38 L59.54,335.42 L59.56,335.46 L59.58,335.49 L59.61,335.53 L59.63,335.57 L59.65,335.60 L59.67,335.64 L59.69,335.68 L59.72,335.71 L59.74,335.75 L59.76,335.79 L59.78,335.82 L59.81,335.86 L59.83,335.90 L59.85,335.93 L59.87,335.97 L59.89,336.00 L59.92,336.04 L59.94,336.08 L59.96,336.11 L59.98,336.15 L60.00,336.19 L60.03,336.22 L60.05,336.26 L60.07,336.29 L60.09,336.33 L60.12,336.37 L60.14,336.40 L60.16,336.44 L60.18,336.48 L60.20,336.51 L60.23,336.55 L60.25,336.58 L60.27,336.62 L60.29,336.66 L60.31,336.69 L60.34,336.73 L60.36,336.77 L60.38,336.80 L60.40,336.84 L60.43,336.87 L60.45,336.91 L60.47,336.95 L60.49,336.98 L60.51,337.02 L60.54,337.05 L60.56,337.09 L60.58,337.13 L60.60,337.16 L60.62,337.20 L60.65,337.23 L60.67,337.27 L60.69,337.31 L60.71,337.34 L60.74,337.38 L60.76,337.41 L60.78,337.45 L60.80,337.48 L60.82,337.52 L60.85,337.56 L60.87,337.59 L60.89,337.63 L60.91,337.66 L60.93,337.70 L60.96,337.74 L60.98,337.77 L61.00,337.81 L61.02,337.84 L61.05,337.88 L61.07,337.91 L61.09,337.95 L61.11,337.99 L61.13,338.02 L61.16,338.06 L61.18,338.09 L61.20,338.13 L61.22,338.16 L61.24,338.20 L61.27,338.24 L61.29,338.27 L61.31,338.31 L61.33,338.34 L61.35,338.38 L61.38,338.41 L61.40,338.45 L61.42,338.49 L61.44,338.52 L61.47,338.56 L61.49,338.59 L61.51,338.63 L61.53,338.66 L61.55,338.70 L61.58,338.73 L61.60,338.77 L61.62,338.80 L61.64,338.84 L61.66,338.88 L61.69,338.91 L61.71,338.95 L61.73,338.98 L62.49,340.19 L63.25,341.38 L64.01,342.56 L64.76,343.72 L65.52,344.88 L66.28,346.02 L67.04,347.14 L67.80,348.25 L68.55,349.35 L69.31,350.44 L70.07,351.51 L70.83,352.57 L71.59,353.61 L72.34,354.64 L73.10,355.66 L73.86,356.67 L74.62,357.66 L75.38,358.64 L76.13,359.60 L76.89,360.55 L77.65,361.49 L78.41,362.42 L79.17,363.33 L79.93,364.22 L80.68,365.02 L81.44,365.81 L82.20,366.57 L82.96,367.32 L83.72,368.05 L84.47,368.77 L85.23,369.46 L85.99,370.15 L86.75,370.81 L87.51,371.46 L88.26,372.10 L89.02,372.72 L89.78,373.33 L90.54,373.92 L91.30,374.50 L92.05,375.06 L92.81,375.62 L93.57,376.16 L94.33,376.69 L95.09,377.20 L95.85,377.71 L96.60,378.20 L97.36,378.68 L98.12,379.15 L98.88,379.61 L99.64,380.06 L100.39,380.50 L101.15,380.92 L101.91,381.34 L102.67,381.75 L103.43,382.15 L104.18,382.54 L104.94,382.92 L105.70,383.29 L106.46,383.66 L107.22,384.01 L107.97,384.36 L108.73,384.70 L109.49,385.03 L110.25,385.36 L111.01,385.67 L111.77,385.98 L112.52,386.28 L113.28,386.58 L114.04,386.87 L114.80,387.15 L115.56,387.42 L116.31,387.69 L117.07,387.96 L117.83,388.21 L118.59,388.46 L119.35,388.71 L120.10,388.95 L120.86,389.18 L121.62,389.41 L122.38,389.63 L123.14,389.85 L123.89,390.07 L124.65,390.27 L125.41,390.48 L126.17,390.68 L126.93,390.87 L127.69,391.06 L128.44,391.25 L129.20,391.43 L129.96,391.60 L130.72,391.78 L131.48,391.94 L132.23,392.11 L132.99,392.27 L133.75,392.43 L134.51,392.58 L135.27,392.73 L136.02,392.88 L136.78,393.02 L137.54,393.16 L138.30,393.30 L139.06,393.43 L139.81,393.57 L140.57,393.69 L141.33,393.82 L142.09,393.94 L142.85,394.06 L143.60,394.18 L144.36,394.29 L145.12,394.40 L145.88,394.51 L146.64,394.62 L147.40,394.72 L148.15,394.82 L148.91,394.92 L149.67,395.02 L150.43,395.11 L151.19,395.20 L151.94,395.29 L152.70,395.38 L153.46,395.47 L154.22,395.55 L154.98,395.63 L155.73,395.71 L156.49,395.79 L157.25,395.87 L158.01,395.94 L158.77,396.02 L159.52,396.09 L160.28,396.16 L161.04,396.23 L161.80,396.29 L162.56,396.36 L163.32,396.42 L164.07,396.48 L164.83,396.54 L165.59,396.60 L166.35,396.66 L167.11,396.72 L167.86,396.77 L168.62,396.83 L169.38,396.88 L170.14,396.93 L170.90,396.98 L171.65,397.03 L172.41,397.08 L173.17,397.13 L173.93,397.17 L174.69,397.22 L175.44,397.26 L176.20,397.30 L176.96,397.35 L177.72,397.39 L178.48,397.43 L179.24,397.47 L179.99,397.50 L180.75,397.54 L181.51,397.58 L182.27,397.61 L183.03,397.65 L183.78,397.68 L184.54,397.72 L185.30,397.75 L186.06,397.78 L186.82,397.81 L187.57,397.84 L188.33,397.87 L189.09,397.90 L189.85,397.93 L190.61,397.95 L191.36,397.98 L192.12,398.01 L192.88,398.03 L193.64,398.06 L194.40,398.08 L195.15,398.11 L195.91,398.13 L196.67,398.15 L197.43,398.18 L198.19,398.20 L198.95,398.22 L199.70,398.24 L200.46,398.26 L201.22,398.28 L201.98,398.30 L202.74,398.32 L203.49,398.34 L204.25,398.35 L205.01,398.37 L205.77,398.39 L206.53,398.41 L207.28,398.42 L208.04,398.44 L208.80,398.46 L209.56,398.47 L210.32,398.49 L211.07,398.50 L211.83,398.51 L212.59,398.53 L213.35,398.54 L214.11,398.56 L214.87,398.57 L215.62,398.58 L216.38,398.59 L217.14,398.61 L217.90,398.62 L218.66,398.63 L219.41,398.64 L220.17,398.65 L220.93,398.66 L221.69,398.67 L222.45,398.68 L223.20,398.69 L223.96,398.70 L224.72,398.71 L225.48,398.72 L226.24,398.73 L226.99,398.74 L227.75,398.75 L228.51,398.76 L229.27,398.77 L230.03,398.78 L230.79,398.78 L231.54,398.79 L232.30,398.80 L233.06,398.81 L233.82,398.81 L234.58,398.82 L235.33,398.83 L236.09,398.83 L236.85,398.84 L237.61,398.85 L238.37,398.85 L239.12,398.86 L239.88,398.87 L240.64,398.87 L241.40,398.88 L242.16,398.88 L242.91,398.89 L243.67,398.90 L244.43,398.90 L245.19,398.91 L245.95,398.91 L246.71,398.92 L247.46,398.92 L248.22,398.93 L248.98,398.93 L249.74,398.93 L250.50,398.94 L251.25,398.94 L252.01,398.95 L252.77,398.95 L253.53,398.96 L254.29,398.96 L255.04,398.96 L255.80,398.97 L256.56,398.97 L257.32,398.97 L258.08,398.98 L258.83,398.98 L259.59,398.98 L260.35,398.99 L261.11,398.99 L261.87,398.99 L262.62,399.00 L263.38,399.00 L264.14,399.00 L264.90,399.01 L265.66,399.01 L266.42,399.01 L267.17,399.01 L267.93,399.02 L268.69,399.02 L269.45,399.02 L270.21,399.02 L270.96,399.03 L271.72,399.03 L272.48,399.03 L273.24,399.03 L274.00,399.03 L274.75,399.04 L275.51,399.04 L276.27,399.04 L277.03,399.04 L277.79,399.04 L278.54,399.05 L279.30,399.05 L280.06,399.05 L280.82,399.05 L281.58,399.05 L282.34,399.05 L283.09,399.06 L283.85,399.06 L284.61,399.06 L285.37,399.06 L286.13,399.06 L286.88,399.06 L287.64,399.07 L288.40,399.07" fill="none" stroke="#0a0a0a" stroke-width="1.25" stroke-dasharray="12.03 11.81 11.58 8.70 23.33 9.41 10.48 9.22 10.89 3.20 10.36 9.24 10.05 9.98 14.96 9.92 9.91 10.51 11.30 10.60 11.30 10.60 11.30 10.60 11.30 10.60 11.30 10.60 11.30 10.60 11.30 10.60" clip-path="url(#cpc)"/>
<path d="M52.90,368.36 L52.92,368.36 L52.94,368.36 L52.97,368.35 L52.99,368.35 L53.01,368.35 L53.03,368.34 L53.05,368.34 L53.08,368.34 L53.10,368.33 L53.12,368.33 L53.14,368.33 L53.17,368.32 L53.19,368.32 L53.21,368.32 L53.23,368.31 L53.25,368.31 L53.28,368.31 L53.30,368.30 L53.32,368.30 L53.34,368.29 L53.36,368.29 L53.39,368.29 L53.41,368.28 L53.43,368.28 L53.45,368.28 L53.48,368.27 L53.50,368.27 L53.52,368.27 L53.54,368.26 L53.56,368.26 L53.59,368.26 L53.61,368.25 L53.63,368.25 L53.65,368.25 L53.67,368.24 L53.70,368.24 L53.72,368.24 L53.74,368.23 L53.76,368.23 L53.79,368.23 L53.81,368.22 L53.83,368.22 L53.85,368.22 L53.87,368.21 L53.90,368.21 L53.92,368.21 L53.94,368.20 L53.96,368.20 L53.98,368.19 L54.01,368.19 L54.03,368.19 L54.05,368.18 L54.07,368.18 L54.10,368.18 L54.12,368.17 L54.14,368.17 L54.16,368.17 L54.18,368.16 L54.21,368.16 L54.23,368.16 L54.25,368.15 L54.27,368.15 L54.29,368.15 L54.32,368.14 L54.34,368.14 L54.36,368.14 L54.38,368.13 L54.41,368.13 L54.43,368.13 L54.45,368.12 L54.47,368.12 L54.49,368.12 L54.52,368.11 L54.54,368.11 L54.56,368.10 L54.58,368.10 L54.60,368.10 L54.63,368.09 L54.65,368.09 L54.67,368.09 L54.69,368.08 L54.71,368.08 L54.74,368.08 L54.76,368.07 L54.78,368.07 L54.80,368.07 L54.83,368.06 L54.85,368.06 L54.87,368.06 L54.89,368.05 L54.91,368.05 L54.94,368.05 L54.96,368.04 L54.98,368.04 L55.00,368.04 L55.02,368.03 L55.05,368.03 L55.07,368.03 L55.09,368.02 L55.11,368.02 L55.14,368.02 L55.16,368.01 L55.18,368.01 L55.20,368.00 L55.22,368.00 L55.25,368.00 L55.27,367.99 L55.29,367.99 L55.31,367.99 L55.33,367.98 L55.36,367.98 L55.38,367.98 L55.40,367.97 L55.42,367.97 L55.45,367.97 L55.47,367.96 L55.49,367.96 L55.51,367.96 L55.53,367.95 L55.56,367.95 L55.58,367.95 L55.60,367.94 L55.62,367.94 L55.64,367.94 L55.67,367.93 L55.69,367.93 L55.71,367.93 L55.73,367.92 L55.76,367.92 L55.78,367.91 L55.80,367.91 L55.82,367.91 L55.84,367.90 L55.87,367.90 L55.89,367.90 L55.91,367.89 L55.93,367.89 L55.95,367.89 L55.98,367.88 L56.00,367.88 L56.02,367.88 L56.04,367.87 L56.07,367.87 L56.09,367.87 L56.11,367.86 L56.13,367.86 L56.15,367.86 L56.18,367.85 L56.20,367.85 L56.22,367.85 L56.24,367.84 L56.26,367.84 L56.29,367.84 L56.31,367.83 L56.33,367.83 L56.35,367.82 L56.37,367.82 L56.40,367.82 L56.42,367.81 L56.44,367.81 L56.46,367.81 L56.49,367.80 L56.51,367.80 L56.53,367.80 L56.55,367.79 L56.57,367.79 L56.60,367.79 L56.62,367.78 L56.64,367.78 L56.66,367.78 L56.68,367.77 L56.71,367.77 L56.73,367.77 L56.75,367.76 L56.77,367.76 L56.80,367.76 L56.82,367.75 L56.84,367.75 L56.86,367.75 L56.88,367.74 L56.91,367.74 L56.93,367.74 L56.95,367.73 L56.97,367.73 L56.99,367.72 L57.02,367.72 L57.04,367.72 L57.06,367.71 L57.08,367.71 L57.11,367.71 L57.13,367.70 L57.15,367.70 L57.17,367.70 L57.19,367.69 L57.22,367.69 L57.24,367.69 L57.26,367.68 L57.28,367.68 L57.30,367.68 L57.33,367.67 L57.35,367.67 L57.37,367.67 L57.39,367.66 L57.42,367.66 L57.44,367.66 L57.46,367.65 L57.48,367.65 L57.50,367.65 L57.53,367.64 L57.55,367.64 L57.57,367.63 L57.59,367.63 L57.61,367.63 L57.64,367.62 L57.66,367.62 L57.68,367.62 L57.70,367.61 L57.73,367.61 L57.75,367.61 L57.77,367.60 L57.79,367.60 L57.81,367.60 L57.84,367.59 L57.86,367.59 L57.88,367.59 L57.90,367.58 L57.92,367.58 L57.95,367.58 L57.97,367.57 L57.99,367.57 L58.01,367.57 L58.03,367.56 L58.06,367.56 L58.08,367.56 L58.10,367.55 L58.12,367.55 L58.15,367.55 L58.17,367.54 L58.19,367.54 L58.21,367.53 L58.23,367.53 L58.26,367.53 L58.28,367.52 L58.30,367.52 L58.32,367.52 L58.34,367.51 L58.37,367.51 L58.39,367.51 L58.41,367.50 L58.43,367.50 L58.46,367.50 L58.48,367.49 L58.50,367.49 L58.52,367.49 L58.54,367.48 L58.57,367.48 L58.59,367.48 L58.61,367.47 L58.63,367.47 L58.65,367.47 L58.68,367.46 L58.70,367.46 L58.72,367.46 L58.74,367.45 L58.77,367.45 L58.79,367.44 L58.81,367.44 L58.83,367.44 L58.85,367.43 L58.88,367.43 L58.90,367.43 L58.92,367.42 L58.94,367.42 L58.96,367.42 L58.99,367.41 L59.01,367.41 L59.03,367.41 L59.05,367.40 L59.08,367.40 L59.10,367.40 L59.12,367.39 L59.14,367.39 L59.16,367.39 L59.19,367.38 L59.21,367.38 L59.23,367.38 L59.25,367.37 L59.27,367.37 L59.30,367.37 L59.32,367.36 L59.34,367.36 L59.36,367.36 L59.39,367.35 L59.41,367.35 L59.43,367.34 L59.45,367.34 L59.47,367.34 L59.50,367.33 L59.52,367.33 L59.54,367.33 L59.56,367.32 L59.58,367.32 L59.61,367.32 L59.63,367.31 L59.65,367.31 L59.67,367.31 L59.69,367.30 L59.72,367.30 L59.74,367.30 L59.76,367.29 L59.78,367.29 L59.81,367.29 L59.83,367.28 L59.85,367.28 L59.87,367.28 L59.89,367.27 L59.92,367.27 L59.94,367.27 L59.96,367.26 L59.98,367.26 L60.00,367.25 L60.03,367.25 L60.05,367.25 L60.07,367.24 L60.09,367.24 L60.12,367.24 L60.14,367.23 L60.16,367.23 L60.18,367.23 L60.20,367.22 L60.23,367.22 L60.25,367.22 L60.27,367.21 L60.29,367.21 L60.31,367.21 L60.34,367.20 L60.36,367.20 L60.38,367.20 L60.40,367.19 L60.43,367.19 L60.45,367.19 L60.47,367.18 L60.49,367.18 L60.51,367.18 L60.54,367.17 L60.56,367.17 L60.58,367.17 L60.60,367.16 L60.62,367.16 L60.65,367.15 L60.67,367.15 L60.69,367.15 L60.71,367.14 L60.74,367.14 L60.76,367.14 L60.78,367.13 L60.80,367.13 L60.82,367.13 L60.85,367.12 L60.87,367.12 L60.89,367.12 L60.91,367.11 L60.93,367.11 L60.96,367.11 L60.98,367.10 L61.00,367.10 L61.02,367.10 L61.05,367.09 L61.07,367.09 L61.09,367.09 L61.11,367.08 L61.13,367.08 L61.16,367.08 L61.18,367.07 L61.20,367.07 L61.22,367.06 L61.24,367.06 L61.27,367.06 L61.29,367.05 L61.31,367.05 L61.33,367.05 L61.35,367.04 L61.38,367.04 L61.40,367.04 L61.42,367.03 L61.44,367.03 L61.47,367.03 L61.49,367.02 L61.51,367.02 L61.53,367.02 L61.55,367.01 L61.58,367.01 L61.60,367.01 L61.62,367.00 L61.64,367.00 L61.66,367.00 L61.69,366.99 L61.71,366.99 L61.73,366.99 L62.49,366.87 L63.25,366.75 L64.01,366.63 L64.76,366.51 L65.52,366.39 L66.28,366.28 L67.04,366.16 L67.80,366.04 L68.55,365.92 L69.31,365.80 L70.07,365.68 L70.83,365.57 L71.59,365.45 L72.34,365.33 L73.10,365.21 L73.86,365.09 L74.62,364.97 L75.38,364.86 L76.13,364.74 L76.89,364.62 L77.65,364.50 L78.41,364.38 L79.17,364.26 L79.93,364.15 L80.68,364.06 L81.44,363.98 L82.20,363.90 L82.96,363.82 L83.72,363.74 L84.47,363.66 L85.23,363.59 L85.99,363.51 L86.75,363.44 L87.51,363.37 L88.26,363.30 L89.02,363.24 L89.78,363.17 L90.54,363.11 L91.30,363.05 L92.05,362.99 L92.81,362.93 L93.57,362.87 L94.33,362.81 L95.09,362.76 L95.85,362.70 L96.60,362.65 L97.36,362.60 L98.12,362.55 L98.88,362.50 L99.64,362.45 L100.39,362.41 L101.15,362.36 L101.91,362.32 L102.67,362.27 L103.43,362.23 L104.18,362.19 L104.94,362.15 L105.70,362.11 L106.46,362.07 L107.22,362.03 L107.97,361.99 L108.73,361.96 L109.49,361.92 L110.25,361.89 L111.01,361.85 L111.77,361.82 L112.52,361.79 L113.28,361.76 L114.04,361.73 L114.80,361.70 L115.56,361.67 L116.31,361.64 L117.07,361.61 L117.83,361.58 L118.59,361.56 L119.35,361.53 L120.10,361.51 L120.86,361.48 L121.62,361.46 L122.38,361.43 L123.14,361.41 L123.89,361.39 L124.65,361.36 L125.41,361.34 L126.17,361.32 L126.93,361.30 L127.69,361.28 L128.44,361.26 L129.20,361.24 L129.96,361.22 L130.72,361.21 L131.48,361.19 L132.23,361.17 L132.99,361.15 L133.75,361.14 L134.51,361.12 L135.27,361.10 L136.02,361.09 L136.78,361.07 L137.54,361.06 L138.30,361.04 L139.06,361.03 L139.81,361.02 L140.57,361.00 L141.33,360.99 L142.09,360.98 L142.85,360.96 L143.60,360.95 L144.36,360.94 L145.12,360.93 L145.88,360.92 L146.64,360.90 L147.40,360.89 L148.15,360.88 L148.91,360.87 L149.67,360.86 L150.43,360.85 L151.19,360.84 L151.94,360.83 L152.70,360.82 L153.46,360.81 L154.22,360.81 L154.98,360.80 L155.73,360.79 L156.49,360.78 L157.25,360.77 L158.01,360.76 L158.77,360.76 L159.52,360.75 L160.28,360.74 L161.04,360.73 L161.80,360.73 L162.56,360.72 L163.32,360.71 L164.07,360.71 L164.83,360.70 L165.59,360.69 L166.35,360.69 L167.11,360.68 L167.86,360.68 L168.62,360.67 L169.38,360.67 L170.14,360.66 L170.90,360.65 L171.65,360.65 L172.41,360.64 L173.17,360.64 L173.93,360.63 L174.69,360.63 L175.44,360.63 L176.20,360.62 L176.96,360.62 L177.72,360.61 L178.48,360.61 L179.24,360.60 L179.99,360.60 L180.75,360.60 L181.51,360.59 L182.27,360.59 L183.03,360.58 L183.78,360.58 L184.54,360.58 L185.30,360.57 L186.06,360.57 L186.82,360.57 L187.57,360.56 L188.33,360.56 L189.09,360.56 L189.85,360.56 L190.61,360.55 L191.36,360.55 L192.12,360.55 L192.88,360.54 L193.64,360.54 L194.40,360.54 L195.15,360.54 L195.91,360.53 L196.67,360.53 L197.43,360.53 L198.19,360.53 L198.95,360.53 L199.70,360.52 L200.46,360.52 L201.22,360.52 L201.98,360.52 L202.74,360.51 L203.49,360.51 L204.25,360.51 L205.01,360.51 L205.77,360.51 L206.53,360.51 L207.28,360.50 L208.04,360.50 L208.80,360.50 L209.56,360.50 L210.32,360.50 L211.07,360.50 L211.83,360.49 L212.59,360.49 L213.35,360.49 L214.11,360.49 L214.87,360.49 L215.62,360.49 L216.38,360.49 L217.14,360.48 L217.90,360.48 L218.66,360.48 L219.41,360.48 L220.17,360.48 L220.93,360.48 L221.69,360.48 L222.45,360.48 L223.20,360.48 L223.96,360.47 L224.72,360.47 L225.48,360.47 L226.24,360.47 L226.99,360.47 L227.75,360.47 L228.51,360.47 L229.27,360.47 L230.03,360.47 L230.79,360.47 L231.54,360.47 L232.30,360.46 L233.06,360.46 L233.82,360.46 L234.58,360.46 L235.33,360.46 L236.09,360.46 L236.85,360.46 L237.61,360.46 L238.37,360.46 L239.12,360.46 L239.88,360.46 L240.64,360.46 L241.40,360.46 L242.16,360.46 L242.91,360.46 L243.67,360.45 L244.43,360.45 L245.19,360.45 L245.95,360.45 L246.71,360.45 L247.46,360.45 L248.22,360.45 L248.98,360.45 L249.74,360.45 L250.50,360.45 L251.25,360.45 L252.01,360.45 L252.77,360.45 L253.53,360.45 L254.29,360.45 L255.04,360.45 L255.80,360.45 L256.56,360.45 L257.32,360.45 L258.08,360.45 L258.83,360.45 L259.59,360.45 L260.35,360.45 L261.11,360.44 L261.87,360.44 L262.62,360.44 L263.38,360.44 L264.14,360.44 L264.90,360.44 L265.66,360.44 L266.42,360.44 L267.17,360.44 L267.93,360.44 L268.69,360.44 L269.45,360.44 L270.21,360.44 L270.96,360.44 L271.72,360.44 L272.48,360.44 L273.24,360.44 L274.00,360.44 L274.75,360.44 L275.51,360.44 L276.27,360.44 L277.03,360.44 L277.79,360.44 L278.54,360.44 L279.30,360.44 L280.06,360.44 L280.82,360.44 L281.58,360.44 L282.34,360.44 L283.09,360.44 L283.85,360.44 L284.61,360.44 L285.37,360.44 L286.13,360.44 L286.88,360.44 L287.64,360.44 L288.40,360.44" fill="none" stroke="#0a0a0a" stroke-width="1.25" stroke-dasharray="9.11 7.49 1.32 2.63 1.32 4.96 11.10 6.70 1.40 6.45 11.10 6.60 11.10 6.70 1.40 6.45 11.10 6.60 11.10 6.70 1.40 6.45 11.10 6.60 11.10 6.70 1.40 6.45 11.10 6.60 11.10 6.70 1.40 6.45 11.10 6.60 11.10 6.70 1.40 6.45 11.10 6.60" clip-path="url(#cpc)"/>
<rect x="52.9" y="277.7" width="235.49999999999997" height="161.90000000000003" fill="none" stroke="#000" stroke-width="1.35"/>
<path d="M52.90,439.6 v-2.7 M52.90,277.7 v2.7" stroke="#000" stroke-width="1"/>
<path d="M111.77,439.6 v-2.7 M111.77,277.7 v2.7" stroke="#000" stroke-width="1"/>
<path d="M170.65,439.6 v-2.7 M170.65,277.7 v2.7" stroke="#000" stroke-width="1"/>
<path d="M229.52,439.6 v-2.7 M229.52,277.7 v2.7" stroke="#000" stroke-width="1"/>
<path d="M288.40,439.6 v-2.7 M288.40,277.7 v2.7" stroke="#000" stroke-width="1"/>
<path d="M52.9,439.60 h2.7 M288.4,439.60 h-2.7" stroke="#000" stroke-width="1"/>
<path d="M52.9,358.65 h2.7 M288.4,358.65 h-2.7" stroke="#000" stroke-width="1"/>
<path d="M52.9,277.70 h2.7 M288.4,277.70 h-2.7" stroke="#000" stroke-width="1"/>
<text transform="translate(52.20,453.70) scale(1.05,1)" font-size="11.8" text-anchor="middle">0</text>
<text transform="translate(111.37,453.70) scale(1.05,1)" font-size="11.8" text-anchor="middle">1</text>
<text transform="translate(170.25,453.70) scale(1.05,1)" font-size="11.8" text-anchor="middle">2</text>
<text transform="translate(229.22,453.70) scale(1.05,1)" font-size="11.8" text-anchor="middle">3</text>
<text transform="translate(287.60,453.70) scale(1.05,1)" font-size="11.8" text-anchor="middle">4</text>
<text transform="translate(47.70,443.40) scale(1.05,1)" font-size="11.8" text-anchor="end">0</text>
<text transform="translate(47.50,362.85) scale(1.05,1)" font-size="11.8" text-anchor="end">0.05</text>
<text transform="translate(46.55,281.30) scale(1.05,1)" font-size="11.8" text-anchor="end">0.1</text>
<text transform="translate(163.80,270.80) scale(1.03,1)" font-size="15.3" text-anchor="middle">Network w/ microtubule</text>
<text transform="translate(166.00,472.60) scale(1.015,1)" font-size="13.7" text-anchor="middle">time (s)</text>
<text transform="translate(11.9,357.7) rotate(-90)" font-size="13.92" text-anchor="middle">Deformation (arbitrary units)</text>
<text x="27.7" y="263.4" font-size="17.2" font-weight="bold" font-family="'Liberation Serif', serif" stroke-width="0.35">(c)</text>
<text x="253.2" y="478.6" font-size="12.2">x<tspan dx="4.4">10</tspan><tspan dx="1.6" dy="-8.0" font-size="9.3">4</tspan></text>
<clipPath id="cpd"><rect x="357.29999999999995" y="277.09999999999997" width="236.59999999999997" height="163.10000000000002"/></clipPath>
<path d="M357.90,319.77 L357.92,319.99 L357.94,320.20 L357.97,320.40 L357.99,320.60 L358.01,320.79 L358.03,320.97 L358.05,321.14 L358.08,321.31 L358.10,321.47 L358.12,321.63 L358.14,321.78 L358.17,321.92 L358.19,322.06 L358.21,322.19 L358.23,322.32 L358.25,322.44 L358.28,322.55 L358.30,322.67 L358.32,322.77 L358.34,322.88 L358.36,322.98 L358.39,323.07 L358.41,323.17 L358.43,323.25 L358.45,323.34 L358.48,323.42 L358.50,323.50 L358.52,323.57 L358.54,323.64 L358.56,323.71 L358.59,323.78 L358.61,323.84 L358.63,323.90 L358.65,323.96 L358.67,324.01 L358.70,324.07 L358.72,324.12 L358.74,324.17 L358.76,324.21 L358.78,324.26 L358.81,324.30 L358.83,324.34 L358.85,324.38 L358.87,324.42 L358.90,324.45 L358.92,324.49 L358.94,324.52 L358.96,324.55 L358.98,324.58 L359.01,324.61 L359.03,324.64 L359.05,324.66 L359.07,324.68 L359.09,324.71 L359.12,324.73 L359.14,324.75 L359.16,324.77 L359.18,324.79 L359.21,324.81 L359.23,324.82 L359.25,324.84 L359.27,324.85 L359.29,324.87 L359.32,324.88 L359.34,324.89 L359.36,324.91 L359.38,324.92 L359.40,324.93 L359.43,324.94 L359.45,324.95 L359.47,324.95 L359.49,324.96 L359.52,324.97 L359.54,324.98 L359.56,324.98 L359.58,324.99 L359.60,324.99 L359.63,325.00 L359.65,325.00 L359.67,325.01 L359.69,325.01 L359.71,325.01 L359.74,325.01 L359.76,325.02 L359.78,325.02 L359.80,325.02 L359.82,325.02 L359.85,325.02 L359.87,325.02 L359.89,325.02 L359.91,325.02 L359.94,325.02 L359.96,325.02 L359.98,325.02 L360.00,325.02 L360.02,325.02 L360.05,325.01 L360.07,325.01 L360.09,325.01 L360.11,325.01 L360.13,325.01 L360.16,325.00 L360.18,325.00 L360.20,325.00 L360.22,324.99 L360.25,324.99 L360.27,324.99 L360.29,324.98 L360.31,324.98 L360.33,324.97 L360.36,324.97 L360.38,324.97 L360.40,324.96 L360.42,324.96 L360.44,324.95 L360.47,324.95 L360.49,324.94 L360.51,324.94 L360.53,324.93 L360.55,324.93 L360.58,324.92 L360.60,324.92 L360.62,324.91 L360.64,324.91 L360.67,324.90 L360.69,324.89 L360.71,324.89 L360.73,324.88 L360.75,324.88 L360.78,324.87 L360.80,324.87 L360.82,324.86 L360.84,324.85 L360.86,324.85 L360.89,324.84 L360.91,324.83 L360.93,324.83 L360.95,324.82 L360.98,324.81 L361.00,324.81 L361.02,324.80 L361.04,324.80 L361.06,324.79 L361.09,324.78 L361.11,324.78 L361.13,324.77 L361.15,324.76 L361.17,324.76 L361.20,324.75 L361.22,324.74 L361.24,324.74 L361.26,324.73 L361.28,324.72 L361.31,324.71 L361.33,324.71 L361.35,324.70 L361.37,324.69 L361.40,324.69 L361.42,324.68 L361.44,324.67 L361.46,324.67 L361.48,324.66 L361.51,324.65 L361.53,324.64 L361.55,324.64 L361.57,324.63 L361.59,324.62 L361.62,324.62 L361.64,324.61 L361.66,324.60 L361.68,324.59 L361.71,324.59 L361.73,324.58 L361.75,324.57 L361.77,324.57 L361.79,324.56 L361.82,324.55 L361.84,324.54 L361.86,324.54 L361.88,324.53 L361.90,324.52 L361.93,324.52 L361.95,324.51 L361.97,324.50 L361.99,324.49 L362.02,324.49 L362.04,324.48 L362.06,324.47 L362.08,324.46 L362.10,324.46 L362.13,324.45 L362.15,324.44 L362.17,324.44 L362.19,324.43 L362.21,324.42 L362.24,324.41 L362.26,324.41 L362.28,324.40 L362.30,324.39 L362.32,324.39 L362.35,324.38 L362.37,324.37 L362.39,324.36 L362.41,324.36 L362.44,324.35 L362.46,324.34 L362.48,324.33 L362.50,324.33 L362.52,324.32 L362.55,324.31 L362.57,324.31 L362.59,324.30 L362.61,324.29 L362.63,324.28 L362.66,324.28 L362.68,324.27 L362.70,324.26 L362.72,324.26 L362.75,324.25 L362.77,324.24 L362.79,324.23 L362.81,324.23 L362.83,324.22 L362.86,324.21 L362.88,324.20 L362.90,324.20 L362.92,324.19 L362.94,324.18 L362.97,324.18 L362.99,324.17 L363.01,324.16 L363.03,324.15 L363.05,324.15 L363.08,324.14 L363.10,324.13 L363.12,324.13 L363.14,324.12 L363.17,324.11 L363.19,324.10 L363.21,324.10 L363.23,324.09 L363.25,324.08 L363.28,324.08 L363.30,324.07 L363.32,324.06 L363.34,324.05 L363.36,324.05 L363.39,324.04 L363.41,324.03 L363.43,324.03 L363.45,324.02 L363.48,324.01 L363.50,324.00 L363.52,324.00 L363.54,323.99 L363.56,323.98 L363.59,323.98 L363.61,323.97 L363.63,323.96 L363.65,323.96 L363.67,323.95 L363.70,323.94 L363.72,323.93 L363.74,323.93 L363.76,323.92 L363.78,323.91 L363.81,323.91 L363.83,323.90 L363.85,323.89 L363.87,323.88 L363.90,323.88 L363.92,323.87 L363.94,323.86 L363.96,323.86 L363.98,323.85 L364.01,323.84 L364.03,323.84 L364.05,323.83 L364.07,323.82 L364.09,323.81 L364.12,323.81 L364.14,323.80 L364.16,323.79 L364.18,323.79 L364.21,323.78 L364.23,323.77 L364.25,323.77 L364.27,323.76 L364.29,323.75 L364.32,323.75 L364.34,323.74 L364.36,323.73 L364.38,323.72 L364.40,323.72 L364.43,323.71 L364.45,323.70 L364.47,323.70 L364.49,323.69 L364.52,323.68 L364.54,323.68 L364.56,323.67 L364.58,323.66 L364.60,323.66 L364.63,323.65 L364.65,323.64 L364.67,323.64 L364.69,323.63 L364.71,323.62 L364.74,323.62 L364.76,323.61 L364.78,323.60 L364.80,323.59 L364.82,323.59 L364.85,323.58 L364.87,323.57 L364.89,323.57 L364.91,323.56 L364.94,323.55 L364.96,323.55 L364.98,323.54 L365.00,323.53 L365.02,323.53 L365.05,323.52 L365.07,323.51 L365.09,323.51 L365.11,323.50 L365.13,323.49 L365.16,323.49 L365.18,323.48 L365.20,323.47 L365.22,323.47 L365.25,323.46 L365.27,323.45 L365.29,323.45 L365.31,323.44 L365.33,323.43 L365.36,323.43 L365.38,323.42 L365.40,323.41 L365.42,323.41 L365.44,323.40 L365.47,323.39 L365.49,323.39 L365.51,323.38 L365.53,323.37 L365.55,323.37 L365.58,323.36 L365.60,323.35 L365.62,323.35 L365.64,323.34 L365.67,323.33 L365.69,323.33 L365.71,323.32 L365.73,323.31 L365.75,323.31 L365.78,323.30 L365.80,323.29 L365.82,323.29 L365.84,323.28 L365.86,323.27 L365.89,323.27 L365.91,323.26 L365.93,323.25 L365.95,323.25 L365.98,323.24 L366.00,323.23 L366.02,323.23 L366.04,323.22 L366.06,323.21 L366.09,323.21 L366.11,323.20 L366.13,323.19 L366.15,323.19 L366.17,323.18 L366.20,323.18 L366.22,323.17 L366.24,323.16 L366.26,323.16 L366.29,323.15 L366.31,323.14 L366.33,323.14 L366.35,323.13 L366.37,323.12 L366.40,323.12 L366.42,323.11 L366.44,323.10 L366.46,323.10 L366.48,323.09 L366.51,323.08 L366.53,323.08 L366.55,323.07 L366.57,323.06 L366.59,323.06 L366.62,323.05 L366.64,323.05 L366.66,323.04 L366.68,323.03 L366.71,323.03 L366.73,323.02 L367.49,322.80 L368.24,322.59 L369.00,322.39 L369.76,322.18 L370.52,321.99 L371.27,321.80 L372.03,321.61 L372.79,321.43 L373.55,321.25 L374.31,321.07 L375.06,320.90 L375.82,320.74 L376.58,320.58 L377.34,320.42 L378.09,320.26 L378.85,320.11 L379.61,319.97 L380.37,319.82 L381.13,319.68 L381.88,319.55 L382.64,319.41 L383.40,319.28 L384.16,319.16 L384.91,319.03 L385.67,318.91 L386.43,318.79 L387.19,318.68 L387.94,318.56 L388.70,318.46 L389.46,318.35 L390.22,318.24 L390.98,318.14 L391.73,318.04 L392.49,317.94 L393.25,317.85 L394.01,317.76 L394.76,317.67 L395.52,317.58 L396.28,317.49 L397.04,317.41 L397.80,317.33 L398.55,317.25 L399.31,317.17 L400.07,317.09 L400.83,317.02 L401.58,316.95 L402.34,316.87 L403.10,316.81 L403.86,316.74 L404.62,316.67 L405.37,316.61 L406.13,316.54 L406.89,316.48 L407.65,316.42 L408.40,316.37 L409.16,316.31 L409.92,316.25 L410.68,316.20 L411.44,316.15 L412.19,316.09 L412.95,316.04 L413.71,315.99 L414.47,315.95 L415.22,315.90 L415.98,315.85 L416.74,315.81 L417.50,315.77 L418.26,315.72 L419.01,315.68 L419.77,315.64 L420.53,315.60 L421.29,315.56 L422.04,315.52 L422.80,315.49 L423.56,315.45 L424.32,315.42 L425.08,315.38 L425.83,315.35 L426.59,315.32 L427.35,315.29 L428.11,315.25 L428.86,315.22 L429.62,315.19 L430.38,315.17 L431.14,315.14 L431.90,315.11 L432.65,315.08 L433.41,315.06 L434.17,315.03 L434.93,315.01 L435.68,314.98 L436.44,314.96 L437.20,314.94 L437.96,314.91 L438.72,314.89 L439.47,314.87 L440.23,314.85 L440.99,314.83 L441.75,314.81 L442.50,314.79 L443.26,314.77 L444.02,314.75 L444.78,314.73 L445.54,314.71 L446.29,314.70 L447.05,314.68 L447.81,314.66 L448.57,314.65 L449.32,314.63 L450.08,314.62 L450.84,314.60 L451.60,314.59 L452.36,314.57 L453.11,314.56 L453.87,314.54 L454.63,314.53 L455.39,314.52 L456.14,314.51 L456.90,314.49 L457.66,314.48 L458.42,314.47 L459.18,314.46 L459.93,314.45 L460.69,314.44 L461.45,314.43 L462.21,314.42 L462.96,314.41 L463.72,314.40 L464.48,314.39 L465.24,314.38 L466.00,314.37 L466.75,314.36 L467.51,314.35 L468.27,314.34 L469.03,314.33 L469.78,314.32 L470.54,314.32 L471.30,314.31 L472.06,314.30 L472.81,314.29 L473.57,314.29 L474.33,314.28 L475.09,314.27 L475.85,314.27 L476.60,314.26 L477.36,314.25 L478.12,314.25 L478.88,314.24 L479.63,314.23 L480.39,314.23 L481.15,314.22 L481.91,314.22 L482.67,314.21 L483.42,314.21 L484.18,314.20 L484.94,314.20 L485.70,314.19 L486.45,314.19 L487.21,314.18 L487.97,314.18 L488.73,314.17 L489.49,314.17 L490.24,314.16 L491.00,314.16 L491.76,314.16 L492.52,314.15 L493.27,314.15 L494.03,314.14 L494.79,314.14 L495.55,314.14 L496.31,314.13 L497.06,314.13 L497.82,314.13 L498.58,314.12 L499.34,314.12 L500.09,314.12 L500.85,314.12 L501.61,314.11 L502.37,314.11 L503.13,314.11 L503.88,314.10 L504.64,314.10 L505.40,314.10 L506.16,314.10 L506.91,314.09 L507.67,314.09 L508.43,314.09 L509.19,314.09 L509.95,314.08 L510.70,314.08 L511.46,314.08 L512.22,314.08 L512.98,314.08 L513.73,314.07 L514.49,314.07 L515.25,314.07 L516.01,314.07 L516.77,314.07 L517.52,314.06 L518.28,314.06 L519.04,314.06 L519.80,314.06 L520.55,314.06 L521.31,314.06 L522.07,314.05 L522.83,314.05 L523.59,314.05 L524.34,314.05 L525.10,314.05 L525.86,314.05 L526.62,314.05 L527.37,314.04 L528.13,314.04 L528.89,314.04 L529.65,314.04 L530.41,314.04 L531.16,314.04 L531.92,314.04 L532.68,314.04 L533.44,314.04 L534.19,314.03 L534.95,314.03 L535.71,314.03 L536.47,314.03 L537.23,314.03 L537.98,314.03 L538.74,314.03 L539.50,314.03 L540.26,314.03 L541.01,314.03 L541.77,314.03 L542.53,314.02 L543.29,314.02 L544.05,314.02 L544.80,314.02 L545.56,314.02 L546.32,314.02 L547.08,314.02 L547.83,314.02 L548.59,314.02 L549.35,314.02 L550.11,314.02 L550.87,314.02 L551.62,314.02 L552.38,314.02 L553.14,314.02 L553.90,314.01 L554.65,314.01 L555.41,314.01 L556.17,314.01 L556.93,314.01 L557.68,314.01 L558.44,314.01 L559.20,314.01 L559.96,314.01 L560.72,314.01 L561.47,314.01 L562.23,314.01 L562.99,314.01 L563.75,314.01 L564.50,314.01 L565.26,314.01 L566.02,314.01 L566.78,314.01 L567.54,314.01 L568.29,314.01 L569.05,314.01 L569.81,314.01 L570.57,314.01 L571.32,314.01 L572.08,314.01 L572.84,314.00 L573.60,314.00 L574.36,314.00 L575.11,314.00 L575.87,314.00 L576.63,314.00 L577.39,314.00 L578.14,314.00 L578.90,314.00 L579.66,314.00 L580.42,314.00 L581.18,314.00 L581.93,314.00 L582.69,314.00 L583.45,314.00 L584.21,314.00 L584.96,314.00 L585.72,314.00 L586.48,314.00 L587.24,314.00 L588.00,314.00 L588.75,314.00 L589.51,314.00 L590.27,314.00 L591.03,314.00 L591.78,314.00 L592.54,314.00 L593.30,314.00" fill="none" stroke="#0a0a0a" stroke-width="1.25" clip-path="url(#cpd)"/>
<path d="M357.90,403.98 L357.92,403.89 L357.94,403.81 L357.97,403.72 L357.99,403.64 L358.01,403.56 L358.03,403.49 L358.05,403.41 L358.08,403.34 L358.10,403.27 L358.12,403.21 L358.14,403.14 L358.17,403.08 L358.19,403.02 L358.21,402.96 L358.23,402.90 L358.25,402.84 L358.28,402.79 L358.30,402.74 L358.32,402.69 L358.34,402.64 L358.36,402.59 L358.39,402.55 L358.41,402.50 L358.43,402.46 L358.45,402.42 L358.48,402.38 L358.50,402.34 L358.52,402.31 L358.54,402.27 L358.56,402.24 L358.59,402.20 L358.61,402.17 L358.63,402.14 L358.65,402.11 L358.67,402.09 L358.70,402.06 L358.72,402.03 L358.74,402.01 L358.76,401.98 L358.78,401.96 L358.81,401.94 L358.83,401.92 L358.85,401.90 L358.87,401.88 L358.90,401.86 L358.92,401.85 L358.94,401.83 L358.96,401.81 L358.98,401.80 L359.01,401.79 L359.03,401.77 L359.05,401.76 L359.07,401.75 L359.09,401.74 L359.12,401.73 L359.14,401.72 L359.16,401.71 L359.18,401.70 L359.21,401.69 L359.23,401.69 L359.25,401.68 L359.27,401.67 L359.29,401.67 L359.32,401.66 L359.34,401.66 L359.36,401.66 L359.38,401.65 L359.40,401.65 L359.43,401.65 L359.45,401.65 L359.47,401.65 L359.49,401.64 L359.52,401.64 L359.54,401.64 L359.56,401.65 L359.58,401.65 L359.60,401.65 L359.63,401.65 L359.65,401.65 L359.67,401.65 L359.69,401.66 L359.71,401.66 L359.74,401.66 L359.76,401.67 L359.78,401.67 L359.80,401.67 L359.82,401.68 L359.85,401.68 L359.87,401.69 L359.89,401.69 L359.91,401.70 L359.94,401.71 L359.96,401.71 L359.98,401.72 L360.00,401.73 L360.02,401.73 L360.05,401.74 L360.07,401.75 L360.09,401.76 L360.11,401.76 L360.13,401.77 L360.16,401.78 L360.18,401.79 L360.20,401.80 L360.22,401.81 L360.25,401.82 L360.27,401.83 L360.29,401.83 L360.31,401.84 L360.33,401.85 L360.36,401.86 L360.38,401.87 L360.40,401.88 L360.42,401.89 L360.44,401.91 L360.47,401.92 L360.49,401.93 L360.51,401.94 L360.53,401.95 L360.55,401.96 L360.58,401.97 L360.60,401.98 L360.62,401.99 L360.64,402.01 L360.67,402.02 L360.69,402.03 L360.71,402.04 L360.73,402.05 L360.75,402.07 L360.78,402.08 L360.80,402.09 L360.82,402.10 L360.84,402.12 L360.86,402.13 L360.89,402.14 L360.91,402.15 L360.93,402.17 L360.95,402.18 L360.98,402.19 L361.00,402.21 L361.02,402.22 L361.04,402.23 L361.06,402.25 L361.09,402.26 L361.11,402.27 L361.13,402.29 L361.15,402.30 L361.17,402.31 L361.20,402.33 L361.22,402.34 L361.24,402.36 L361.26,402.37 L361.28,402.38 L361.31,402.40 L361.33,402.41 L361.35,402.43 L361.37,402.44 L361.40,402.45 L361.42,402.47 L361.44,402.48 L361.46,402.50 L361.48,402.51 L361.51,402.53 L361.53,402.54 L361.55,402.55 L361.57,402.57 L361.59,402.58 L361.62,402.60 L361.64,402.61 L361.66,402.63 L361.68,402.64 L361.71,402.66 L361.73,402.67 L361.75,402.69 L361.77,402.70 L361.79,402.71 L361.82,402.73 L361.84,402.74 L361.86,402.76 L361.88,402.77 L361.90,402.79 L361.93,402.80 L361.95,402.82 L361.97,402.83 L361.99,402.85 L362.02,402.86 L362.04,402.88 L362.06,402.89 L362.08,402.91 L362.10,402.92 L362.13,402.94 L362.15,402.95 L362.17,402.97 L362.19,402.98 L362.21,403.00 L362.24,403.01 L362.26,403.03 L362.28,403.04 L362.30,403.06 L362.32,403.07 L362.35,403.09 L362.37,403.10 L362.39,403.12 L362.41,403.13 L362.44,403.15 L362.46,403.16 L362.48,403.18 L362.50,403.19 L362.52,403.21 L362.55,403.22 L362.57,403.24 L362.59,403.25 L362.61,403.27 L362.63,403.28 L362.66,403.30 L362.68,403.31 L362.70,403.33 L362.72,403.34 L362.75,403.36 L362.77,403.37 L362.79,403.39 L362.81,403.40 L362.83,403.42 L362.86,403.43 L362.88,403.45 L362.90,403.46 L362.92,403.48 L362.94,403.49 L362.97,403.51 L362.99,403.53 L363.01,403.54 L363.03,403.56 L363.05,403.57 L363.08,403.59 L363.10,403.60 L363.12,403.62 L363.14,403.63 L363.17,403.65 L363.19,403.66 L363.21,403.68 L363.23,403.69 L363.25,403.71 L363.28,403.72 L363.30,403.74 L363.32,403.75 L363.34,403.77 L363.36,403.78 L363.39,403.80 L363.41,403.81 L363.43,403.83 L363.45,403.84 L363.48,403.86 L363.50,403.87 L363.52,403.89 L363.54,403.90 L363.56,403.92 L363.59,403.93 L363.61,403.95 L363.63,403.96 L363.65,403.98 L363.67,403.99 L363.70,404.01 L363.72,404.02 L363.74,404.04 L363.76,404.05 L363.78,404.07 L363.81,404.08 L363.83,404.10 L363.85,404.11 L363.87,404.13 L363.90,404.14 L363.92,404.16 L363.94,404.17 L363.96,404.19 L363.98,404.20 L364.01,404.22 L364.03,404.23 L364.05,404.25 L364.07,404.26 L364.09,404.27 L364.12,404.29 L364.14,404.30 L364.16,404.32 L364.18,404.33 L364.21,404.35 L364.23,404.36 L364.25,404.38 L364.27,404.39 L364.29,404.41 L364.32,404.42 L364.34,404.44 L364.36,404.45 L364.38,404.47 L364.40,404.48 L364.43,404.50 L364.45,404.51 L364.47,404.53 L364.49,404.54 L364.52,404.55 L364.54,404.57 L364.56,404.58 L364.58,404.60 L364.60,404.61 L364.63,404.63 L364.65,404.64 L364.67,404.66 L364.69,404.67 L364.71,404.69 L364.74,404.70 L364.76,404.72 L364.78,404.73 L364.80,404.75 L364.82,404.76 L364.85,404.77 L364.87,404.79 L364.89,404.80 L364.91,404.82 L364.94,404.83 L364.96,404.85 L364.98,404.86 L365.00,404.88 L365.02,404.89 L365.05,404.90 L365.07,404.92 L365.09,404.93 L365.11,404.95 L365.13,404.96 L365.16,404.98 L365.18,404.99 L365.20,405.01 L365.22,405.02 L365.25,405.03 L365.27,405.05 L365.29,405.06 L365.31,405.08 L365.33,405.09 L365.36,405.11 L365.38,405.12 L365.40,405.13 L365.42,405.15 L365.44,405.16 L365.47,405.18 L365.49,405.19 L365.51,405.21 L365.53,405.22 L365.55,405.23 L365.58,405.25 L365.60,405.26 L365.62,405.28 L365.64,405.29 L365.67,405.31 L365.69,405.32 L365.71,405.33 L365.73,405.35 L365.75,405.36 L365.78,405.38 L365.80,405.39 L365.82,405.41 L365.84,405.42 L365.86,405.43 L365.89,405.45 L365.91,405.46 L365.93,405.48 L365.95,405.49 L365.98,405.50 L366.00,405.52 L366.02,405.53 L366.04,405.55 L366.06,405.56 L366.09,405.57 L366.11,405.59 L366.13,405.60 L366.15,405.62 L366.17,405.63 L366.20,405.64 L366.22,405.66 L366.24,405.67 L366.26,405.69 L366.29,405.70 L366.31,405.71 L366.33,405.73 L366.35,405.74 L366.37,405.76 L366.40,405.77 L366.42,405.78 L366.44,405.80 L366.46,405.81 L366.48,405.83 L366.51,405.84 L366.53,405.85 L366.55,405.87 L366.57,405.88 L366.59,405.89 L366.62,405.91 L366.64,405.92 L366.66,405.94 L366.68,405.95 L366.71,405.96 L366.73,405.98 L367.49,406.44 L368.24,406.90 L369.00,407.34 L369.76,407.78 L370.52,408.20 L371.27,408.61 L372.03,409.02 L372.79,409.42 L373.55,409.80 L374.31,410.18 L375.06,410.55 L375.82,410.91 L376.58,411.26 L377.34,411.60 L378.09,411.94 L378.85,412.27 L379.61,412.59 L380.37,412.90 L381.13,413.21 L381.88,413.50 L382.64,413.80 L383.40,414.08 L384.16,414.36 L384.91,414.63 L385.67,414.90 L386.43,415.16 L387.19,415.41 L387.94,415.66 L388.70,415.90 L389.46,416.13 L390.22,416.37 L390.98,416.59 L391.73,416.81 L392.49,417.03 L393.25,417.24 L394.01,417.44 L394.76,417.64 L395.52,417.84 L396.28,418.03 L397.04,418.22 L397.80,418.40 L398.55,418.58 L399.31,418.75 L400.07,418.92 L400.83,419.09 L401.58,419.25 L402.34,419.41 L403.10,419.56 L403.86,419.72 L404.62,419.86 L405.37,420.01 L406.13,420.15 L406.89,420.29 L407.65,420.42 L408.40,420.55 L409.16,420.68 L409.92,420.81 L410.68,420.93 L411.44,421.05 L412.19,421.17 L412.95,421.28 L413.71,421.39 L414.47,421.50 L415.22,421.61 L415.98,421.71 L416.74,421.81 L417.50,421.91 L418.26,422.01 L419.01,422.11 L419.77,422.20 L420.53,422.29 L421.29,422.38 L422.04,422.46 L422.80,422.55 L423.56,422.63 L424.32,422.71 L425.08,422.79 L425.83,422.87 L426.59,422.94 L427.35,423.01 L428.11,423.09 L428.86,423.16 L429.62,423.22 L430.38,423.29 L431.14,423.36 L431.90,423.42 L432.65,423.48 L433.41,423.54 L434.17,423.60 L434.93,423.66 L435.68,423.72 L436.44,423.77 L437.20,423.83 L437.96,423.88 L438.72,423.93 L439.47,423.98 L440.23,424.03 L440.99,424.08 L441.75,424.13 L442.50,424.17 L443.26,424.22 L444.02,424.26 L444.78,424.30 L445.54,424.34 L446.29,424.39 L447.05,424.43 L447.81,424.46 L448.57,424.50 L449.32,424.54 L450.08,424.58 L450.84,424.61 L451.60,424.65 L452.36,424.68 L453.11,424.71 L453.87,424.74 L454.63,424.78 L455.39,424.81 L456.14,424.84 L456.90,424.87 L457.66,424.90 L458.42,424.92 L459.18,424.95 L459.93,424.98 L460.69,425.00 L461.45,425.03 L462.21,425.05 L462.96,425.08 L463.72,425.10 L464.48,425.13 L465.24,425.15 L466.00,425.17 L466.75,425.19 L467.51,425.21 L468.27,425.23 L469.03,425.25 L469.78,425.27 L470.54,425.29 L471.30,425.31 L472.06,425.33 L472.81,425.35 L473.57,425.37 L474.33,425.38 L475.09,425.40 L475.85,425.42 L476.60,425.43 L477.36,425.45 L478.12,425.46 L478.88,425.48 L479.63,425.49 L480.39,425.51 L481.15,425.52 L481.91,425.53 L482.67,425.55 L483.42,425.56 L484.18,425.57 L484.94,425.59 L485.70,425.60 L486.45,425.61 L487.21,425.62 L487.97,425.63 L488.73,425.64 L489.49,425.65 L490.24,425.67 L491.00,425.68 L491.76,425.69 L492.52,425.70 L493.27,425.70 L494.03,425.71 L494.79,425.72 L495.55,425.73 L496.31,425.74 L497.06,425.75 L497.82,425.76 L498.58,425.77 L499.34,425.77 L500.09,425.78 L500.85,425.79 L501.61,425.80 L502.37,425.80 L503.13,425.81 L503.88,425.82 L504.64,425.82 L505.40,425.83 L506.16,425.84 L506.91,425.84 L507.67,425.85 L508.43,425.86 L509.19,425.86 L509.95,425.87 L510.70,425.87 L511.46,425.88 L512.22,425.88 L512.98,425.89 L513.73,425.89 L514.49,425.90 L515.25,425.90 L516.01,425.91 L516.77,425.91 L517.52,425.92 L518.28,425.92 L519.04,425.93 L519.80,425.93 L520.55,425.93 L521.31,425.94 L522.07,425.94 L522.83,425.95 L523.59,425.95 L524.34,425.95 L525.10,425.96 L525.86,425.96 L526.62,425.96 L527.37,425.97 L528.13,425.97 L528.89,425.97 L529.65,425.98 L530.41,425.98 L531.16,425.98 L531.92,425.99 L532.68,425.99 L533.44,425.99 L534.19,425.99 L534.95,426.00 L535.71,426.00 L536.47,426.00 L537.23,426.00 L537.98,426.01 L538.74,426.01 L539.50,426.01 L540.26,426.01 L541.01,426.02 L541.77,426.02 L542.53,426.02 L543.29,426.02 L544.05,426.02 L544.80,426.03 L545.56,426.03 L546.32,426.03 L547.08,426.03 L547.83,426.03 L548.59,426.04 L549.35,426.04 L550.11,426.04 L550.87,426.04 L551.62,426.04 L552.38,426.04 L553.14,426.04 L553.90,426.05 L554.65,426.05 L555.41,426.05 L556.17,426.05 L556.93,426.05 L557.68,426.05 L558.44,426.05 L559.20,426.06 L559.96,426.06 L560.72,426.06 L561.47,426.06 L562.23,426.06 L562.99,426.06 L563.75,426.06 L564.50,426.06 L565.26,426.06 L566.02,426.07 L566.78,426.07 L567.54,426.07 L568.29,426.07 L569.05,426.07 L569.81,426.07 L570.57,426.07 L571.32,426.07 L572.08,426.07 L572.84,426.07 L573.60,426.07 L574.36,426.08 L575.11,426.08 L575.87,426.08 L576.63,426.08 L577.39,426.08 L578.14,426.08 L578.90,426.08 L579.66,426.08 L580.42,426.08 L581.18,426.08 L581.93,426.08 L582.69,426.08 L583.45,426.08 L584.21,426.08 L584.96,426.08 L585.72,426.09 L586.48,426.09 L587.24,426.09 L588.00,426.09 L588.75,426.09 L589.51,426.09 L590.27,426.09 L591.03,426.09 L591.78,426.09 L592.54,426.09 L593.30,426.09" fill="none" stroke="#0a0a0a" stroke-width="1.25" stroke-dasharray="12.30 9.43 12.38 9.16 10.13 9.52 15.80 9.73 11.30 10.60 11.30 10.60 11.30 10.60 11.30 10.60 11.30 10.60 11.30 10.60 11.30 10.60 11.30 10.60 11.30 10.60 11.30 10.60" clip-path="url(#cpd)"/>
<path d="M357.90,321.01 L357.92,321.00 L357.94,320.99 L357.97,320.98 L357.99,320.97 L358.01,320.96 L358.03,320.96 L358.05,320.95 L358.08,320.94 L358.10,320.93 L358.12,320.92 L358.14,320.91 L358.17,320.90 L358.19,320.89 L358.21,320.89 L358.23,320.88 L358.25,320.87 L358.28,320.86 L358.30,320.85 L358.32,320.84 L358.34,320.83 L358.36,320.82 L358.39,320.82 L358.41,320.81 L358.43,320.80 L358.45,320.79 L358.48,320.78 L358.50,320.77 L358.52,320.76 L358.54,320.76 L358.56,320.75 L358.59,320.74 L358.61,320.73 L358.63,320.72 L358.65,320.71 L358.67,320.70 L358.70,320.70 L358.72,320.69 L358.74,320.68 L358.76,320.67 L358.78,320.66 L358.81,320.65 L358.83,320.64 L358.85,320.64 L358.87,320.63 L358.90,320.62 L358.92,320.61 L358.94,320.60 L358.96,320.59 L358.98,320.58 L359.01,320.58 L359.03,320.57 L359.05,320.56 L359.07,320.55 L359.09,320.54 L359.12,320.53 L359.14,320.53 L359.16,320.52 L359.18,320.51 L359.21,320.50 L359.23,320.49 L359.25,320.48 L359.27,320.47 L359.29,320.47 L359.32,320.46 L359.34,320.45 L359.36,320.44 L359.38,320.43 L359.40,320.42 L359.43,320.42 L359.45,320.41 L359.47,320.40 L359.49,320.39 L359.52,320.38 L359.54,320.37 L359.56,320.37 L359.58,320.36 L359.60,320.35 L359.63,320.34 L359.65,320.33 L359.67,320.32 L359.69,320.32 L359.71,320.31 L359.74,320.30 L359.76,320.29 L359.78,320.28 L359.80,320.27 L359.82,320.27 L359.85,320.26 L359.87,320.25 L359.89,320.24 L359.91,320.23 L359.94,320.22 L359.96,320.22 L359.98,320.21 L360.00,320.20 L360.02,320.19 L360.05,320.18 L360.07,320.17 L360.09,320.17 L360.11,320.16 L360.13,320.15 L360.16,320.14 L360.18,320.13 L360.20,320.13 L360.22,320.12 L360.25,320.11 L360.27,320.10 L360.29,320.09 L360.31,320.08 L360.33,320.08 L360.36,320.07 L360.38,320.06 L360.40,320.05 L360.42,320.04 L360.44,320.04 L360.47,320.03 L360.49,320.02 L360.51,320.01 L360.53,320.00 L360.55,320.00 L360.58,319.99 L360.60,319.98 L360.62,319.97 L360.64,319.96 L360.67,319.96 L360.69,319.95 L360.71,319.94 L360.73,319.93 L360.75,319.92 L360.78,319.91 L360.80,319.91 L360.82,319.90 L360.84,319.89 L360.86,319.88 L360.89,319.87 L360.91,319.87 L360.93,319.86 L360.95,319.85 L360.98,319.84 L361.00,319.83 L361.02,319.83 L361.04,319.82 L361.06,319.81 L361.09,319.80 L361.11,319.79 L361.13,319.79 L361.15,319.78 L361.17,319.77 L361.20,319.76 L361.22,319.76 L361.24,319.75 L361.26,319.74 L361.28,319.73 L361.31,319.72 L361.33,319.72 L361.35,319.71 L361.37,319.70 L361.40,319.69 L361.42,319.68 L361.44,319.68 L361.46,319.67 L361.48,319.66 L361.51,319.65 L361.53,319.64 L361.55,319.64 L361.57,319.63 L361.59,319.62 L361.62,319.61 L361.64,319.61 L361.66,319.60 L361.68,319.59 L361.71,319.58 L361.73,319.57 L361.75,319.57 L361.77,319.56 L361.79,319.55 L361.82,319.54 L361.84,319.54 L361.86,319.53 L361.88,319.52 L361.90,319.51 L361.93,319.50 L361.95,319.50 L361.97,319.49 L361.99,319.48 L362.02,319.47 L362.04,319.47 L362.06,319.46 L362.08,319.45 L362.10,319.44 L362.13,319.43 L362.15,319.43 L362.17,319.42 L362.19,319.41 L362.21,319.40 L362.24,319.40 L362.26,319.39 L362.28,319.38 L362.30,319.37 L362.32,319.37 L362.35,319.36 L362.37,319.35 L362.39,319.34 L362.41,319.33 L362.44,319.33 L362.46,319.32 L362.48,319.31 L362.50,319.30 L362.52,319.30 L362.55,319.29 L362.57,319.28 L362.59,319.27 L362.61,319.27 L362.63,319.26 L362.66,319.25 L362.68,319.24 L362.70,319.24 L362.72,319.23 L362.75,319.22 L362.77,319.21 L362.79,319.21 L362.81,319.20 L362.83,319.19 L362.86,319.18 L362.88,319.18 L362.90,319.17 L362.92,319.16 L362.94,319.15 L362.97,319.15 L362.99,319.14 L363.01,319.13 L363.03,319.12 L363.05,319.12 L363.08,319.11 L363.10,319.10 L363.12,319.09 L363.14,319.09 L363.17,319.08 L363.19,319.07 L363.21,319.06 L363.23,319.06 L363.25,319.05 L363.28,319.04 L363.30,319.03 L363.32,319.03 L363.34,319.02 L363.36,319.01 L363.39,319.00 L363.41,319.00 L363.43,318.99 L363.45,318.98 L363.48,318.97 L363.50,318.97 L363.52,318.96 L363.54,318.95 L363.56,318.94 L363.59,318.94 L363.61,318.93 L363.63,318.92 L363.65,318.92 L363.67,318.91 L363.70,318.90 L363.72,318.89 L363.74,318.89 L363.76,318.88 L363.78,318.87 L363.81,318.86 L363.83,318.86 L363.85,318.85 L363.87,318.84 L363.90,318.84 L363.92,318.83 L363.94,318.82 L363.96,318.81 L363.98,318.81 L364.01,318.80 L364.03,318.79 L364.05,318.78 L364.07,318.78 L364.09,318.77 L364.12,318.76 L364.14,318.76 L364.16,318.75 L364.18,318.74 L364.21,318.73 L364.23,318.73 L364.25,318.72 L364.27,318.71 L364.29,318.70 L364.32,318.70 L364.34,318.69 L364.36,318.68 L364.38,318.68 L364.40,318.67 L364.43,318.66 L364.45,318.65 L364.47,318.65 L364.49,318.64 L364.52,318.63 L364.54,318.63 L364.56,318.62 L364.58,318.61 L364.60,318.60 L364.63,318.60 L364.65,318.59 L364.67,318.58 L364.69,318.58 L364.71,318.57 L364.74,318.56 L364.76,318.55 L364.78,318.55 L364.80,318.54 L364.82,318.53 L364.85,318.53 L364.87,318.52 L364.89,318.51 L364.91,318.51 L364.94,318.50 L364.96,318.49 L364.98,318.48 L365.00,318.48 L365.02,318.47 L365.05,318.46 L365.07,318.46 L365.09,318.45 L365.11,318.44 L365.13,318.43 L365.16,318.43 L365.18,318.42 L365.20,318.41 L365.22,318.41 L365.25,318.40 L365.27,318.39 L365.29,318.39 L365.31,318.38 L365.33,318.37 L365.36,318.36 L365.38,318.36 L365.40,318.35 L365.42,318.34 L365.44,318.34 L365.47,318.33 L365.49,318.32 L365.51,318.32 L365.53,318.31 L365.55,318.30 L365.58,318.30 L365.60,318.29 L365.62,318.28 L365.64,318.27 L365.67,318.27 L365.69,318.26 L365.71,318.25 L365.73,318.25 L365.75,318.24 L365.78,318.23 L365.80,318.23 L365.82,318.22 L365.84,318.21 L365.86,318.21 L365.89,318.20 L365.91,318.19 L365.93,318.19 L365.95,318.18 L365.98,318.17 L366.00,318.16 L366.02,318.16 L366.04,318.15 L366.06,318.14 L366.09,318.14 L366.11,318.13 L366.13,318.12 L366.15,318.12 L366.17,318.11 L366.20,318.10 L366.22,318.10 L366.24,318.09 L366.26,318.08 L366.29,318.08 L366.31,318.07 L366.33,318.06 L366.35,318.06 L366.37,318.05 L366.40,318.04 L366.42,318.04 L366.44,318.03 L366.46,318.02 L366.48,318.02 L366.51,318.01 L366.53,318.00 L366.55,318.00 L366.57,317.99 L366.59,317.98 L366.62,317.98 L366.64,317.97 L366.66,317.96 L366.68,317.96 L366.71,317.95 L366.73,317.94 L367.49,317.72 L368.24,317.50 L369.00,317.28 L369.76,317.07 L370.52,316.87 L371.27,316.66 L372.03,316.47 L372.79,316.28 L373.55,316.09 L374.31,315.91 L375.06,315.73 L375.82,315.56 L376.58,315.39 L377.34,315.22 L378.09,315.06 L378.85,314.90 L379.61,314.75 L380.37,314.60 L381.13,314.45 L381.88,314.31 L382.64,314.17 L383.40,314.03 L384.16,313.89 L384.91,313.76 L385.67,313.64 L386.43,313.51 L387.19,313.39 L387.94,313.27 L388.70,313.15 L389.46,313.04 L390.22,312.93 L390.98,312.82 L391.73,312.72 L392.49,312.61 L393.25,312.51 L394.01,312.41 L394.76,312.32 L395.52,312.22 L396.28,312.13 L397.04,312.04 L397.80,311.96 L398.55,311.87 L399.31,311.79 L400.07,311.71 L400.83,311.63 L401.58,311.55 L402.34,311.47 L403.10,311.40 L403.86,311.33 L404.62,311.26 L405.37,311.19 L406.13,311.12 L406.89,311.06 L407.65,310.99 L408.40,310.93 L409.16,310.87 L409.92,310.81 L410.68,310.75 L411.44,310.69 L412.19,310.64 L412.95,310.58 L413.71,310.53 L414.47,310.48 L415.22,310.43 L415.98,310.38 L416.74,310.33 L417.50,310.28 L418.26,310.24 L419.01,310.19 L419.77,310.15 L420.53,310.11 L421.29,310.06 L422.04,310.02 L422.80,309.98 L423.56,309.94 L424.32,309.91 L425.08,309.87 L425.83,309.83 L426.59,309.80 L427.35,309.76 L428.11,309.73 L428.86,309.70 L429.62,309.66 L430.38,309.63 L431.14,309.60 L431.90,309.57 L432.65,309.54 L433.41,309.51 L434.17,309.49 L434.93,309.46 L435.68,309.43 L436.44,309.41 L437.20,309.38 L437.96,309.36 L438.72,309.33 L439.47,309.31 L440.23,309.29 L440.99,309.26 L441.75,309.24 L442.50,309.22 L443.26,309.20 L444.02,309.18 L444.78,309.16 L445.54,309.14 L446.29,309.12 L447.05,309.10 L447.81,309.08 L448.57,309.07 L449.32,309.05 L450.08,309.03 L450.84,309.01 L451.60,309.00 L452.36,308.98 L453.11,308.97 L453.87,308.95 L454.63,308.94 L455.39,308.92 L456.14,308.91 L456.90,308.90 L457.66,308.88 L458.42,308.87 L459.18,308.86 L459.93,308.84 L460.69,308.83 L461.45,308.82 L462.21,308.81 L462.96,308.80 L463.72,308.79 L464.48,308.77 L465.24,308.76 L466.00,308.75 L466.75,308.74 L467.51,308.73 L468.27,308.72 L469.03,308.72 L469.78,308.71 L470.54,308.70 L471.30,308.69 L472.06,308.68 L472.81,308.67 L473.57,308.66 L474.33,308.66 L475.09,308.65 L475.85,308.64 L476.60,308.63 L477.36,308.63 L478.12,308.62 L478.88,308.61 L479.63,308.61 L480.39,308.60 L481.15,308.59 L481.91,308.59 L482.67,308.58 L483.42,308.57 L484.18,308.57 L484.94,308.56 L485.70,308.56 L486.45,308.55 L487.21,308.55 L487.97,308.54 L488.73,308.54 L489.49,308.53 L490.24,308.53 L491.00,308.52 L491.76,308.52 L492.52,308.51 L493.27,308.51 L494.03,308.50 L494.79,308.50 L495.55,308.50 L496.31,308.49 L497.06,308.49 L497.82,308.48 L498.58,308.48 L499.34,308.48 L500.09,308.47 L500.85,308.47 L501.61,308.47 L502.37,308.46 L503.13,308.46 L503.88,308.46 L504.64,308.45 L505.40,308.45 L506.16,308.45 L506.91,308.44 L507.67,308.44 L508.43,308.44 L509.19,308.44 L509.95,308.43 L510.70,308.43 L511.46,308.43 L512.22,308.43 L512.98,308.42 L513.73,308.42 L514.49,308.42 L515.25,308.42 L516.01,308.42 L516.77,308.41 L517.52,308.41 L518.28,308.41 L519.04,308.41 L519.80,308.41 L520.55,308.40 L521.31,308.40 L522.07,308.40 L522.83,308.40 L523.59,308.40 L524.34,308.39 L525.10,308.39 L525.86,308.39 L526.62,308.39 L527.37,308.39 L528.13,308.39 L528.89,308.39 L529.65,308.38 L530.41,308.38 L531.16,308.38 L531.92,308.38 L532.68,308.38 L533.44,308.38 L534.19,308.38 L534.95,308.38 L535.71,308.37 L536.47,308.37 L537.23,308.37 L537.98,308.37 L538.74,308.37 L539.50,308.37 L540.26,308.37 L541.01,308.37 L541.77,308.37 L542.53,308.36 L543.29,308.36 L544.05,308.36 L544.80,308.36 L545.56,308.36 L546.32,308.36 L547.08,308.36 L547.83,308.36 L548.59,308.36 L549.35,308.36 L550.11,308.36 L550.87,308.36 L551.62,308.36 L552.38,308.35 L553.14,308.35 L553.90,308.35 L554.65,308.35 L555.41,308.35 L556.17,308.35 L556.93,308.35 L557.68,308.35 L558.44,308.35 L559.20,308.35 L559.96,308.35 L560.72,308.35 L561.47,308.35 L562.23,308.35 L562.99,308.35 L563.75,308.35 L564.50,308.35 L565.26,308.35 L566.02,308.34 L566.78,308.34 L567.54,308.34 L568.29,308.34 L569.05,308.34 L569.81,308.34 L570.57,308.34 L571.32,308.34 L572.08,308.34 L572.84,308.34 L573.60,308.34 L574.36,308.34 L575.11,308.34 L575.87,308.34 L576.63,308.34 L577.39,308.34 L578.14,308.34 L578.90,308.34 L579.66,308.34 L580.42,308.34 L581.18,308.34 L581.93,308.34 L582.69,308.34 L583.45,308.34 L584.21,308.34 L584.96,308.34 L585.72,308.34 L586.48,308.34 L587.24,308.34 L588.00,308.34 L588.75,308.34 L589.51,308.33 L590.27,308.33 L591.03,308.33 L591.78,308.33 L592.54,308.33 L593.30,308.33" fill="none" stroke="#0a0a0a" stroke-width="1.25" stroke-dasharray="8.59 7.26 1.34 3.28 1.33 4.48 11.20 6.80 1.40 6.60 11.20 6.80 11.20 6.80 1.40 6.60 11.20 6.80 11.20 6.80 1.40 6.60 11.20 6.80 11.20 6.80 1.40 6.60 11.20 6.80 11.20 6.80 1.40 6.60 11.20 6.80 11.20 6.80 1.40 6.60 11.20 6.80" clip-path="url(#cpd)"/>
<rect x="357.9" y="277.7" width="235.39999999999998" height="161.90000000000003" fill="none" stroke="#000" stroke-width="1.35"/>
<path d="M357.90,439.6 v-2.7 M357.90,277.7 v2.7" stroke="#000" stroke-width="1"/>
<path d="M416.75,439.6 v-2.7 M416.75,277.7 v2.7" stroke="#000" stroke-width="1"/>
<path d="M475.60,439.6 v-2.7 M475.60,277.7 v2.7" stroke="#000" stroke-width="1"/>
<path d="M534.45,439.6 v-2.7 M534.45,277.7 v2.7" stroke="#000" stroke-width="1"/>
<path d="M593.30,439.6 v-2.7 M593.30,277.7 v2.7" stroke="#000" stroke-width="1"/>
<path d="M357.9,439.60 h2.7 M593.3,439.60 h-2.7" stroke="#000" stroke-width="1"/>
<path d="M357.9,385.63 h2.7 M593.3,385.63 h-2.7" stroke="#000" stroke-width="1"/>
<path d="M357.9,331.67 h2.7 M593.3,331.67 h-2.7" stroke="#000" stroke-width="1"/>
<path d="M357.9,277.70 h2.7 M593.3,277.70 h-2.7" stroke="#000" stroke-width="1"/>
<text transform="translate(356.80,453.70) scale(1.05,1)" font-size="11.8" text-anchor="middle">0</text>
<text transform="translate(415.45,453.70) scale(1.05,1)" font-size="11.8" text-anchor="middle">1</text>
<text transform="translate(474.30,453.70) scale(1.05,1)" font-size="11.8" text-anchor="middle">2</text>
<text transform="translate(533.45,453.70) scale(1.05,1)" font-size="11.8" text-anchor="middle">3</text>
<text transform="translate(591.80,453.70) scale(1.05,1)" font-size="11.8" text-anchor="middle">4</text>
<text transform="translate(351.40,443.90) scale(1.05,1)" font-size="11.8" text-anchor="end">0</text>
<text transform="translate(351.40,389.93) scale(1.05,1)" font-size="11.8" text-anchor="end">20</text>
<text transform="translate(351.40,335.97) scale(1.05,1)" font-size="11.8" text-anchor="end">40</text>
<text transform="translate(351.40,282.00) scale(1.05,1)" font-size="11.8" text-anchor="end">60</text>
<text transform="translate(468.00,270.80) scale(1.03,1)" font-size="15.3" text-anchor="middle">Network w/ microtubule</text>
<text transform="translate(470.70,472.60) scale(1.015,1)" font-size="13.7" text-anchor="middle">time (s)</text>
<text transform="translate(325.2,359.7) rotate(-90)" font-size="13.92" text-anchor="middle">Forces (arbitrary units)</text>
<text x="331.4" y="263.4" font-size="17.2" font-weight="bold" font-family="'Liberation Serif', serif" stroke-width="0.35">(d)</text>
<text x="563.2" y="477.3" font-size="12.2">x<tspan dx="4.4">10</tspan><tspan dx="1.6" dy="-7.7" font-size="9.3">4</tspan></text>
<rect x="156.35" y="33.3" width="104.35" height="57.2" fill="#fff" stroke="#000" stroke-width="1.1"/>
<path d="M162.3,41.5 H213.9" stroke="#0a0a0a" stroke-width="1.25"/>
<text x="219.60" y="46.50" font-size="12" text-anchor="start">CCAP</text>
<path d="M162.3,60.7 H213.9" stroke="#0a0a0a" stroke-width="1.25" stroke-dasharray="10.4 10.2"/>
<text x="219.60" y="65.70" font-size="12" text-anchor="start">N</text>
<path d="M162.3,78.6 H213.9" stroke="#0a0a0a" stroke-width="1.25" stroke-dasharray="1.4 6.6 10 7.3"/>
<text x="219.60" y="83.60" font-size="12" text-anchor="start">FAS</text>
<rect x="450.75" y="29.5" width="123.75" height="50.5" fill="#fff" stroke="#000" stroke-width="1.1"/>
<path d="M455.3,37.8 H505.7" stroke="#0a0a0a" stroke-width="1.25"/>
<text x="515.80" y="42.80" font-size="12" text-anchor="start">Branch 1</text>
<path d="M455.3,54.6 H505.7" stroke="#0a0a0a" stroke-width="1.25" stroke-dasharray="10.4 10.2"/>
<text x="515.80" y="59.60" font-size="12" text-anchor="start">Branch 2</text>
<path d="M455.3,71.5 H505.7" stroke="#0a0a0a" stroke-width="1.25" stroke-dasharray="1.4 6.6 10 7.3"/>
<text x="515.80" y="76.50" font-size="12" text-anchor="start">Branch 3</text>
</svg>
</body></html>
